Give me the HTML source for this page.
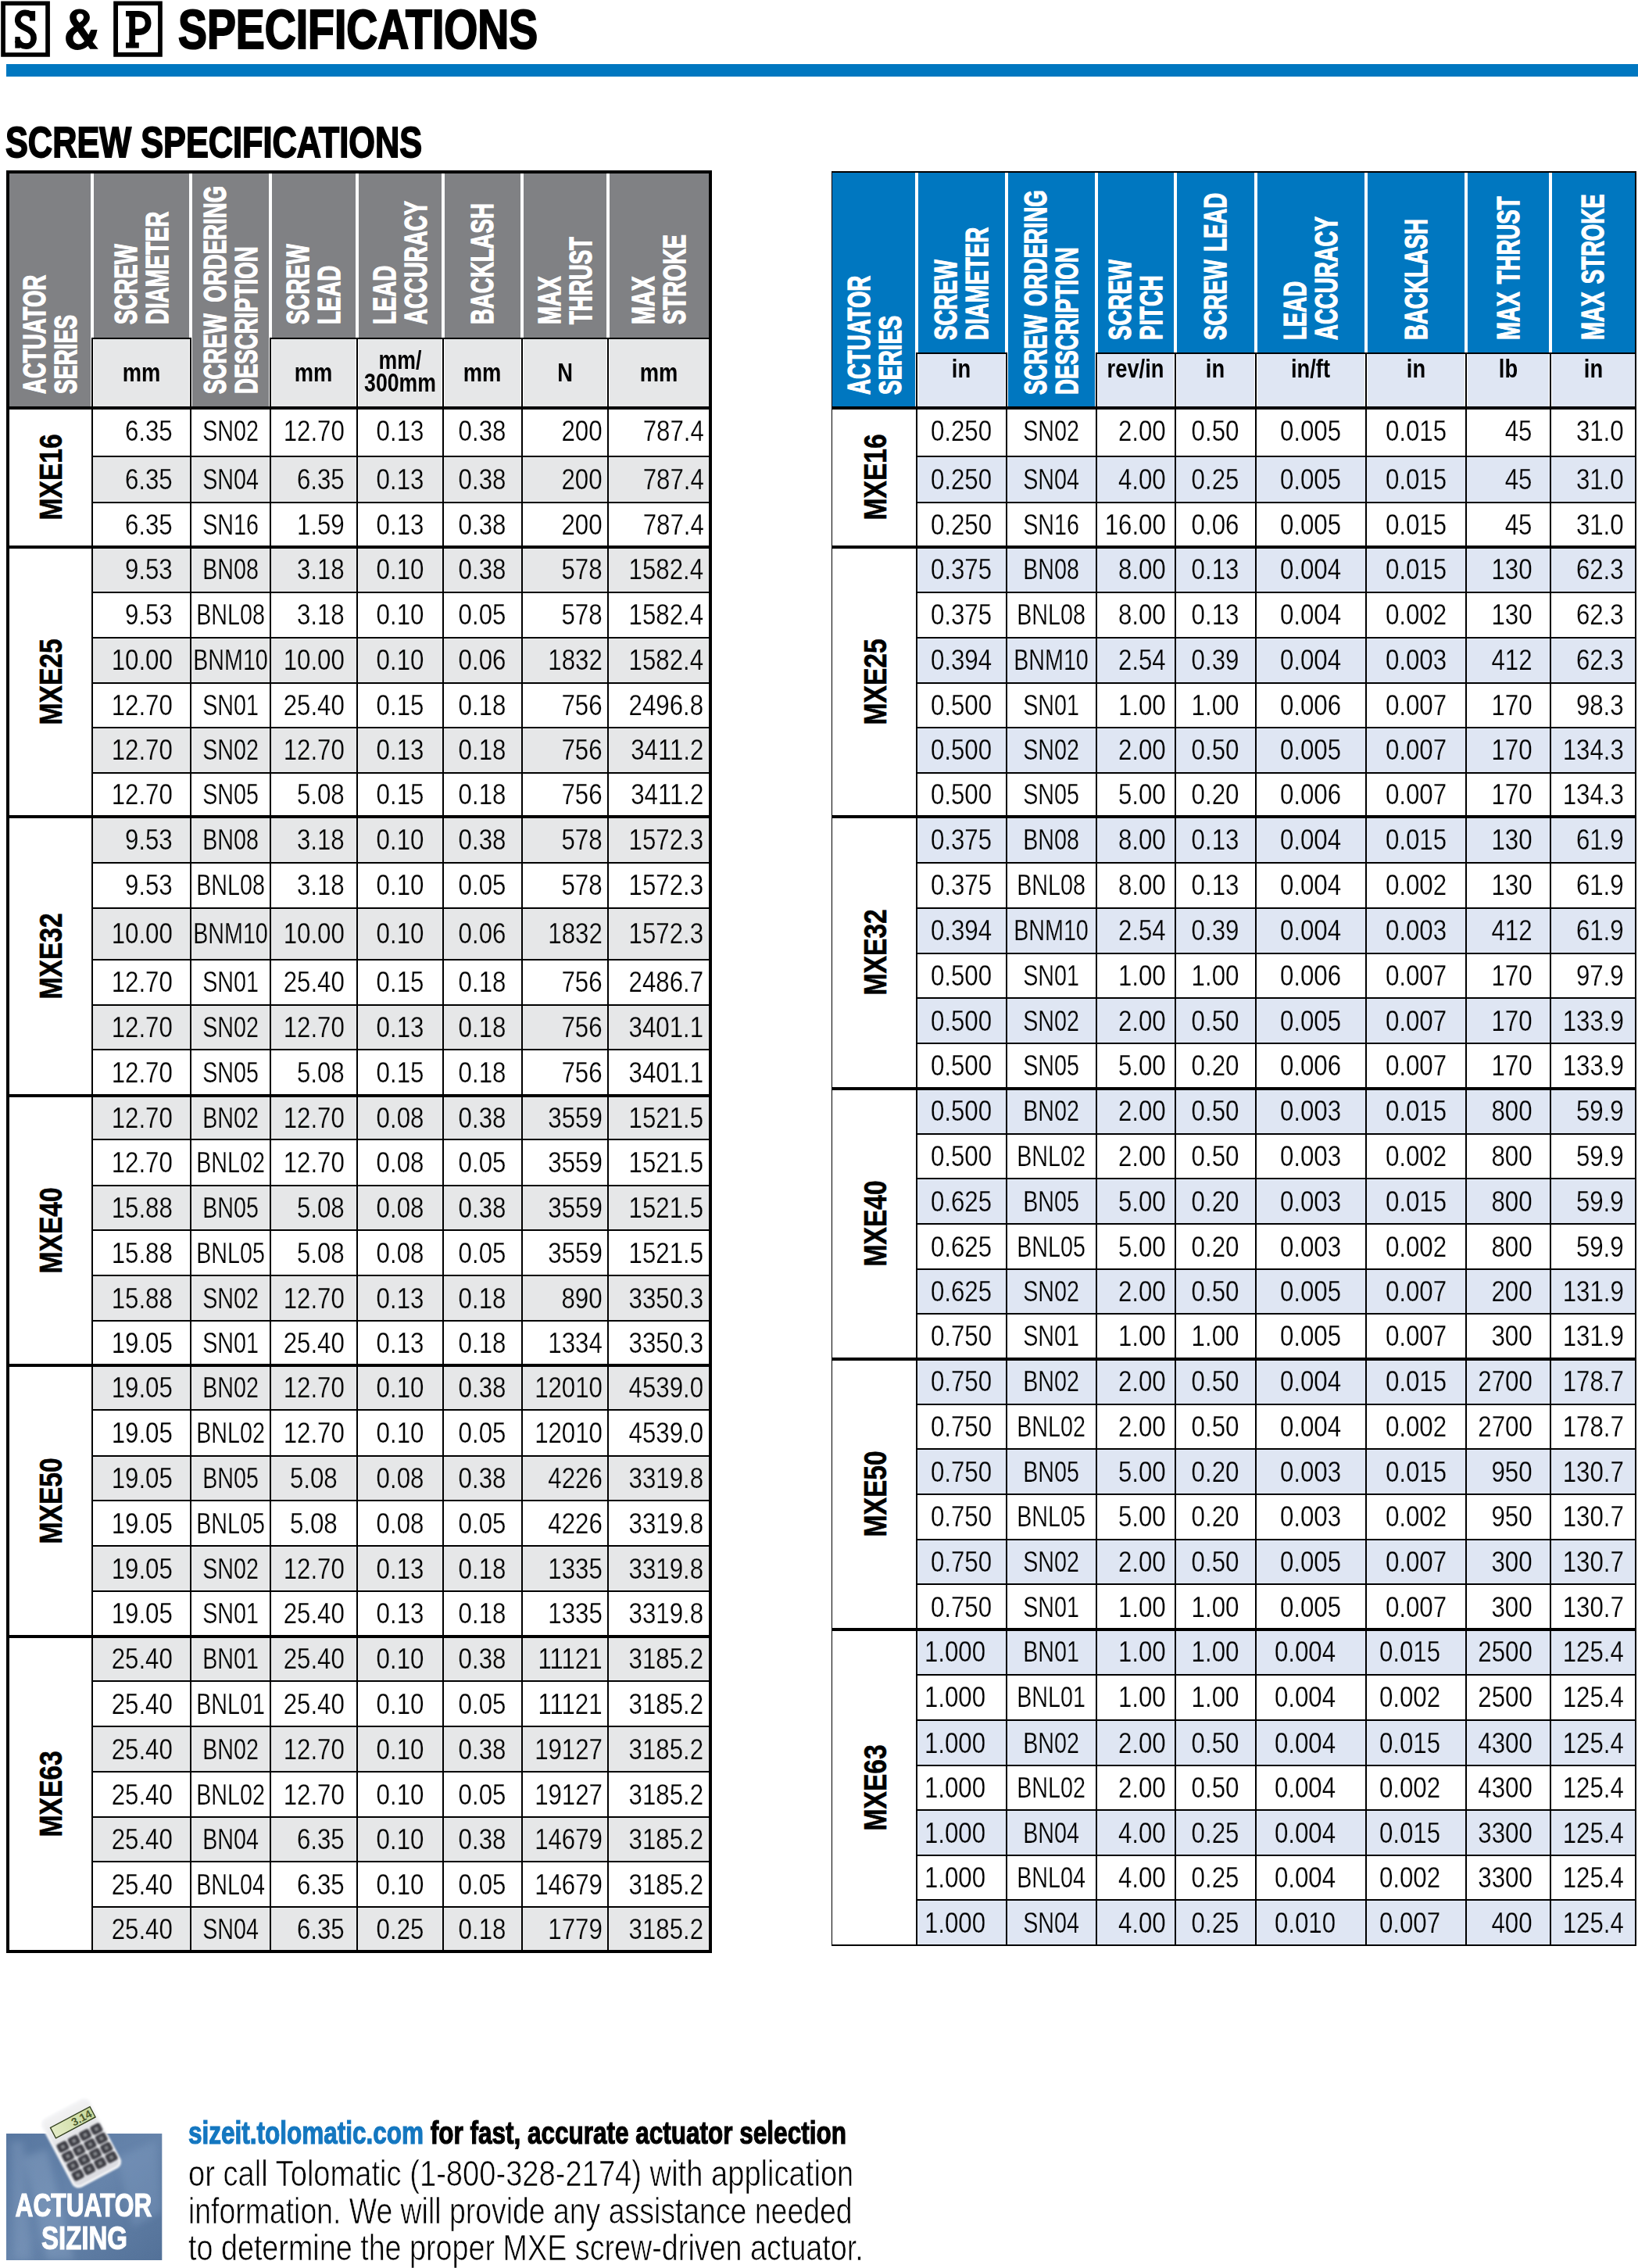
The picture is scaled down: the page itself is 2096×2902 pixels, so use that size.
<!DOCTYPE html>
<html><head><meta charset="utf-8"><title>S &amp; P Specifications</title>
<style>
html,body{margin:0;padding:0;background:#fff;}
body{position:relative;width:2096px;height:2902px;overflow:hidden;font-family:"Liberation Sans", sans-serif;color:#000;}
.r{position:absolute;}
.t{position:absolute;white-space:nowrap;}
.v{position:absolute;white-space:nowrap;transform-origin:0 0;word-spacing:4px;}
.c{position:absolute;}
.c div{white-space:nowrap;}
</style></head><body>
<svg style="position:absolute;left:0;top:0" width="66" height="76" viewBox="0 0 66 76"><path fill="#000" fill-rule="evenodd" d="M1.2,1.4 H63.9 V72.7 H1.2 Z M6.9,6.9 V67.2 H58.2 V6.9 Z"/><path fill="none" stroke="#000" stroke-width="7.6" d="M41.8,22 C40,18.2 36.5,16.4 32,16.4 C26.5,16.4 22.7,20.5 22.7,25.8 C22.7,31.2 27,33.6 33,36.2 C39,38.8 43.1,42 43.1,48.4 C43.1,54.8 39,59.1 33.6,59.1 C28,59.1 24.2,56.2 22.3,51.5"/><rect x="38" y="14.1" width="7.1" height="12.5" fill="#000"/><rect x="19.3" y="47.1" width="6.5" height="14.5" fill="#000"/></svg>
<svg style="position:absolute;left:143px;top:0" width="67" height="76" viewBox="0 0 67 76"><path fill="#000" fill-rule="evenodd" d="M2.2,1.4 H64.8 V72.8 H2.2 Z M8,7 V67.1 H59.1 V7 Z"/><path fill="#000" fill-rule="evenodd" d="M18,13.9 L34,13.9 C44,13.9 50.5,20 50.5,29.4 C50.5,38.5 44,45 34,45 L30.1,45 L30.1,54.4 L34.8,54.4 L34.8,61.6 L18,61.6 L18,54.4 L22.3,54.4 L22.3,20.9 L18,20.9 Z M30.1,21.7 L35,21.7 C40,21.7 42.7,24.5 42.7,29.3 C42.7,34 40,36.8 35,36.8 L30.1,36.8 Z"/></svg>
<svg style="position:absolute;left:78px;top:6px" width="54" height="64" viewBox="0 0 54 64"><path fill="#000" fill-rule="evenodd" d="M23.7,5.4 C31,5.4 36.9,10 36.9,16.2 C36.9,21.5 33,25 28.7,28.8 L35.3,38.6 L38.4,32.1 L46.5,32.1 C45,40 43,44 40.5,47.5 L47.8,56.7 L37.3,56.7 L34.5,52.8 C31,56 26.5,57.9 21.4,57.9 C12,57.9 6.1,51 6.1,42.9 C6.1,36 10,32 16.5,28 C13,24 11.2,20.5 11.2,16.2 C11.2,10 16.5,5.4 23.7,5.4 Z M24.4,11.5 C27.3,11.5 29,13.5 29,16 C29,19 26.5,21 23.6,23.1 C21.5,20.5 19.8,18.5 19.8,15.8 C19.8,13.3 21.8,11.5 24.4,11.5 Z M21.4,34.3 L30,46.5 C28,49 25.5,50.4 22.5,50.4 C18.3,50.4 15.5,47 15.5,43 C15.5,39 18,36.5 21.4,34.3 Z"/></svg>
<div class="t" style="left:228.0px;top:2.6px;font-size:70.5px;line-height:70.5px;font-weight:bold;color:#000;transform:scaleX(0.785);transform-origin:0 0;;-webkit-text-stroke:2.20px #000">SPECIFICATIONS</div>
<div class="r" style="left:8.0px;top:82.0px;width:2088.0px;height:15.8px;background:#0077c0"></div>
<div class="t" style="left:7.0px;top:155.3px;font-size:55.5px;line-height:55.5px;font-weight:bold;color:#000;transform:scaleX(0.780);transform-origin:0 0;;-webkit-text-stroke:1.80px #000">SCREW SPECIFICATIONS</div>
<div class="r" style="left:10.0px;top:220.0px;width:898.5px;height:301.5px;background:#808184"></div>
<div class="r" style="left:117.8px;top:433.0px;width:126.0px;height:88.5px;background:#e6e7e8"></div>
<div class="r" style="left:345.5px;top:433.0px;width:111.5px;height:88.5px;background:#e6e7e8"></div>
<div class="r" style="left:457.0px;top:433.0px;width:110.0px;height:88.5px;background:#e6e7e8"></div>
<div class="r" style="left:567.0px;top:433.0px;width:100.5px;height:88.5px;background:#e6e7e8"></div>
<div class="r" style="left:667.5px;top:433.0px;width:110.5px;height:88.5px;background:#e6e7e8"></div>
<div class="r" style="left:778.0px;top:433.0px;width:130.5px;height:88.5px;background:#e6e7e8"></div>
<div class="r" style="left:117.8px;top:584.0px;width:790.7px;height:59.0px;background:#e6e7e8"></div>
<div class="r" style="left:117.8px;top:700.0px;width:790.7px;height:57.5px;background:#e6e7e8"></div>
<div class="r" style="left:117.8px;top:816.0px;width:790.7px;height:57.5px;background:#e6e7e8"></div>
<div class="r" style="left:117.8px;top:931.0px;width:790.7px;height:57.6px;background:#e6e7e8"></div>
<div class="r" style="left:117.8px;top:1045.0px;width:790.7px;height:59.0px;background:#e6e7e8"></div>
<div class="r" style="left:117.8px;top:1161.6px;width:790.7px;height:66.0px;background:#e6e7e8"></div>
<div class="r" style="left:117.8px;top:1285.7px;width:790.7px;height:57.3px;background:#e6e7e8"></div>
<div class="r" style="left:117.8px;top:1401.5px;width:790.7px;height:56.9px;background:#e6e7e8"></div>
<div class="r" style="left:117.8px;top:1516.6px;width:790.7px;height:57.8px;background:#e6e7e8"></div>
<div class="r" style="left:117.8px;top:1632.3px;width:790.7px;height:57.7px;background:#e6e7e8"></div>
<div class="r" style="left:117.8px;top:1747.0px;width:790.7px;height:57.4px;background:#e6e7e8"></div>
<div class="r" style="left:117.8px;top:1862.6px;width:790.7px;height:57.4px;background:#e6e7e8"></div>
<div class="r" style="left:117.8px;top:1978.0px;width:790.7px;height:57.8px;background:#e6e7e8"></div>
<div class="r" style="left:117.8px;top:2093.5px;width:790.7px;height:57.9px;background:#e6e7e8"></div>
<div class="r" style="left:117.8px;top:2209.0px;width:790.7px;height:58.0px;background:#e6e7e8"></div>
<div class="r" style="left:117.8px;top:2324.7px;width:790.7px;height:57.3px;background:#e6e7e8"></div>
<div class="r" style="left:117.8px;top:2439.8px;width:790.7px;height:57.2px;background:#e6e7e8"></div>
<div class="r" style="left:115.8px;top:220.0px;width:4.0px;height:301.5px;background:#fff"></div>
<div class="r" style="left:241.8px;top:220.0px;width:4.0px;height:301.5px;background:#fff"></div>
<div class="r" style="left:343.5px;top:220.0px;width:4.0px;height:301.5px;background:#fff"></div>
<div class="r" style="left:455.0px;top:220.0px;width:4.0px;height:301.5px;background:#fff"></div>
<div class="r" style="left:565.0px;top:220.0px;width:4.0px;height:301.5px;background:#fff"></div>
<div class="r" style="left:665.5px;top:220.0px;width:4.0px;height:301.5px;background:#fff"></div>
<div class="r" style="left:776.0px;top:220.0px;width:4.0px;height:301.5px;background:#fff"></div>
<div class="r" style="left:116.8px;top:432.0px;width:128.0px;height:2.0px;background:#000"></div>
<div class="r" style="left:116.8px;top:432.0px;width:2.0px;height:89.5px;background:#000"></div>
<div class="r" style="left:242.8px;top:432.0px;width:2.0px;height:89.5px;background:#000"></div>
<div class="r" style="left:344.5px;top:432.0px;width:113.5px;height:2.0px;background:#000"></div>
<div class="r" style="left:344.5px;top:432.0px;width:2.0px;height:89.5px;background:#000"></div>
<div class="r" style="left:456.0px;top:432.0px;width:2.0px;height:89.5px;background:#000"></div>
<div class="r" style="left:456.0px;top:432.0px;width:112.0px;height:2.0px;background:#000"></div>
<div class="r" style="left:456.0px;top:432.0px;width:2.0px;height:89.5px;background:#000"></div>
<div class="r" style="left:566.0px;top:432.0px;width:2.0px;height:89.5px;background:#000"></div>
<div class="r" style="left:566.0px;top:432.0px;width:102.5px;height:2.0px;background:#000"></div>
<div class="r" style="left:566.0px;top:432.0px;width:2.0px;height:89.5px;background:#000"></div>
<div class="r" style="left:666.5px;top:432.0px;width:2.0px;height:89.5px;background:#000"></div>
<div class="r" style="left:666.5px;top:432.0px;width:112.5px;height:2.0px;background:#000"></div>
<div class="r" style="left:666.5px;top:432.0px;width:2.0px;height:89.5px;background:#000"></div>
<div class="r" style="left:777.0px;top:432.0px;width:2.0px;height:89.5px;background:#000"></div>
<div class="r" style="left:777.0px;top:432.0px;width:132.5px;height:2.0px;background:#000"></div>
<div class="r" style="left:777.0px;top:432.0px;width:2.0px;height:89.5px;background:#000"></div>
<div class="r" style="left:907.5px;top:432.0px;width:2.0px;height:89.5px;background:#000"></div>
<div class="r" style="left:10.0px;top:519.5px;width:898.5px;height:4.0px;background:#000"></div>
<div class="r" style="left:117.8px;top:583.0px;width:790.7px;height:2.0px;background:#000"></div>
<div class="r" style="left:117.8px;top:642.0px;width:790.7px;height:2.0px;background:#000"></div>
<div class="r" style="left:10.0px;top:698.0px;width:898.5px;height:4.0px;background:#000"></div>
<div class="r" style="left:117.8px;top:756.5px;width:790.7px;height:2.0px;background:#000"></div>
<div class="r" style="left:117.8px;top:815.0px;width:790.7px;height:2.0px;background:#000"></div>
<div class="r" style="left:117.8px;top:872.5px;width:790.7px;height:2.0px;background:#000"></div>
<div class="r" style="left:117.8px;top:930.0px;width:790.7px;height:2.0px;background:#000"></div>
<div class="r" style="left:117.8px;top:987.6px;width:790.7px;height:2.0px;background:#000"></div>
<div class="r" style="left:10.0px;top:1043.0px;width:898.5px;height:4.0px;background:#000"></div>
<div class="r" style="left:117.8px;top:1103.0px;width:790.7px;height:2.0px;background:#000"></div>
<div class="r" style="left:117.8px;top:1160.6px;width:790.7px;height:2.0px;background:#000"></div>
<div class="r" style="left:117.8px;top:1226.6px;width:790.7px;height:2.0px;background:#000"></div>
<div class="r" style="left:117.8px;top:1284.7px;width:790.7px;height:2.0px;background:#000"></div>
<div class="r" style="left:117.8px;top:1342.0px;width:790.7px;height:2.0px;background:#000"></div>
<div class="r" style="left:10.0px;top:1399.5px;width:898.5px;height:4.0px;background:#000"></div>
<div class="r" style="left:117.8px;top:1457.4px;width:790.7px;height:2.0px;background:#000"></div>
<div class="r" style="left:117.8px;top:1515.6px;width:790.7px;height:2.0px;background:#000"></div>
<div class="r" style="left:117.8px;top:1573.4px;width:790.7px;height:2.0px;background:#000"></div>
<div class="r" style="left:117.8px;top:1631.3px;width:790.7px;height:2.0px;background:#000"></div>
<div class="r" style="left:117.8px;top:1689.0px;width:790.7px;height:2.0px;background:#000"></div>
<div class="r" style="left:10.0px;top:1745.0px;width:898.5px;height:4.0px;background:#000"></div>
<div class="r" style="left:117.8px;top:1803.4px;width:790.7px;height:2.0px;background:#000"></div>
<div class="r" style="left:117.8px;top:1861.6px;width:790.7px;height:2.0px;background:#000"></div>
<div class="r" style="left:117.8px;top:1919.0px;width:790.7px;height:2.0px;background:#000"></div>
<div class="r" style="left:117.8px;top:1977.0px;width:790.7px;height:2.0px;background:#000"></div>
<div class="r" style="left:117.8px;top:2034.8px;width:790.7px;height:2.0px;background:#000"></div>
<div class="r" style="left:10.0px;top:2091.5px;width:898.5px;height:4.0px;background:#000"></div>
<div class="r" style="left:117.8px;top:2150.4px;width:790.7px;height:2.0px;background:#000"></div>
<div class="r" style="left:117.8px;top:2208.0px;width:790.7px;height:2.0px;background:#000"></div>
<div class="r" style="left:117.8px;top:2266.0px;width:790.7px;height:2.0px;background:#000"></div>
<div class="r" style="left:117.8px;top:2323.7px;width:790.7px;height:2.0px;background:#000"></div>
<div class="r" style="left:117.8px;top:2381.0px;width:790.7px;height:2.0px;background:#000"></div>
<div class="r" style="left:117.8px;top:2438.8px;width:790.7px;height:2.0px;background:#000"></div>
<div class="r" style="left:116.8px;top:521.5px;width:2.0px;height:1975.5px;background:#000"></div>
<div class="r" style="left:242.8px;top:521.5px;width:2.0px;height:1975.5px;background:#000"></div>
<div class="r" style="left:344.5px;top:521.5px;width:2.0px;height:1975.5px;background:#000"></div>
<div class="r" style="left:456.0px;top:521.5px;width:2.0px;height:1975.5px;background:#000"></div>
<div class="r" style="left:566.0px;top:521.5px;width:2.0px;height:1975.5px;background:#000"></div>
<div class="r" style="left:666.5px;top:521.5px;width:2.0px;height:1975.5px;background:#000"></div>
<div class="r" style="left:777.0px;top:521.5px;width:2.0px;height:1975.5px;background:#000"></div>
<div class="r" style="left:8.0px;top:218.0px;width:902.5px;height:4.0px;background:#000"></div>
<div class="r" style="left:8.0px;top:2495.0px;width:902.5px;height:4.0px;background:#000"></div>
<div class="r" style="left:8.0px;top:218.0px;width:4.0px;height:2281.0px;background:#000"></div>
<div class="r" style="left:906.5px;top:218.0px;width:4.0px;height:2281.0px;background:#000"></div>
<div class="t" style="right:1875.6px;top:533.6px;font-size:36.3px;line-height:36.3px;font-weight:normal;color:#000;transform:scaleX(0.860);transform-origin:100% 0;;-webkit-text-stroke:0.25px #fff">6.35</div>
<div class="t" style="left:-205.4px;width:1000px;text-align:center;top:533.6px;font-size:36.3px;line-height:36.3px;font-weight:normal;color:#000;transform:scaleX(0.790);transform-origin:50% 0;;-webkit-text-stroke:0.25px #fff">SN02</div>
<div class="t" style="right:1655.5px;top:533.6px;font-size:36.3px;line-height:36.3px;font-weight:normal;color:#000;transform:scaleX(0.860);transform-origin:100% 0;;-webkit-text-stroke:0.25px #fff">12.70</div>
<div class="t" style="left:12.0px;width:1000px;text-align:center;top:533.6px;font-size:36.3px;line-height:36.3px;font-weight:normal;color:#000;transform:scaleX(0.860);transform-origin:50% 0;;-webkit-text-stroke:0.25px #fff">0.13</div>
<div class="t" style="left:117.2px;width:1000px;text-align:center;top:533.6px;font-size:36.3px;line-height:36.3px;font-weight:normal;color:#000;transform:scaleX(0.860);transform-origin:50% 0;;-webkit-text-stroke:0.25px #fff">0.38</div>
<div class="t" style="right:1325.3px;top:533.6px;font-size:36.3px;line-height:36.3px;font-weight:normal;color:#000;transform:scaleX(0.860);transform-origin:100% 0;;-webkit-text-stroke:0.25px #fff">200</div>
<div class="t" style="right:1195.5px;top:533.6px;font-size:36.3px;line-height:36.3px;font-weight:normal;color:#000;transform:scaleX(0.860);transform-origin:100% 0;;-webkit-text-stroke:0.25px #fff">787.4</div>
<div class="t" style="right:1875.6px;top:596.1px;font-size:36.3px;line-height:36.3px;font-weight:normal;color:#000;transform:scaleX(0.860);transform-origin:100% 0;;-webkit-text-stroke:0.25px #e6e7e8">6.35</div>
<div class="t" style="left:-205.4px;width:1000px;text-align:center;top:596.1px;font-size:36.3px;line-height:36.3px;font-weight:normal;color:#000;transform:scaleX(0.790);transform-origin:50% 0;;-webkit-text-stroke:0.25px #e6e7e8">SN04</div>
<div class="t" style="right:1655.5px;top:596.1px;font-size:36.3px;line-height:36.3px;font-weight:normal;color:#000;transform:scaleX(0.860);transform-origin:100% 0;;-webkit-text-stroke:0.25px #e6e7e8">6.35</div>
<div class="t" style="left:12.0px;width:1000px;text-align:center;top:596.1px;font-size:36.3px;line-height:36.3px;font-weight:normal;color:#000;transform:scaleX(0.860);transform-origin:50% 0;;-webkit-text-stroke:0.25px #e6e7e8">0.13</div>
<div class="t" style="left:117.2px;width:1000px;text-align:center;top:596.1px;font-size:36.3px;line-height:36.3px;font-weight:normal;color:#000;transform:scaleX(0.860);transform-origin:50% 0;;-webkit-text-stroke:0.25px #e6e7e8">0.38</div>
<div class="t" style="right:1325.3px;top:596.1px;font-size:36.3px;line-height:36.3px;font-weight:normal;color:#000;transform:scaleX(0.860);transform-origin:100% 0;;-webkit-text-stroke:0.25px #e6e7e8">200</div>
<div class="t" style="right:1195.5px;top:596.1px;font-size:36.3px;line-height:36.3px;font-weight:normal;color:#000;transform:scaleX(0.860);transform-origin:100% 0;;-webkit-text-stroke:0.25px #e6e7e8">787.4</div>
<div class="t" style="right:1875.6px;top:654.1px;font-size:36.3px;line-height:36.3px;font-weight:normal;color:#000;transform:scaleX(0.860);transform-origin:100% 0;;-webkit-text-stroke:0.25px #fff">6.35</div>
<div class="t" style="left:-205.4px;width:1000px;text-align:center;top:654.1px;font-size:36.3px;line-height:36.3px;font-weight:normal;color:#000;transform:scaleX(0.790);transform-origin:50% 0;;-webkit-text-stroke:0.25px #fff">SN16</div>
<div class="t" style="right:1655.5px;top:654.1px;font-size:36.3px;line-height:36.3px;font-weight:normal;color:#000;transform:scaleX(0.860);transform-origin:100% 0;;-webkit-text-stroke:0.25px #fff">1.59</div>
<div class="t" style="left:12.0px;width:1000px;text-align:center;top:654.1px;font-size:36.3px;line-height:36.3px;font-weight:normal;color:#000;transform:scaleX(0.860);transform-origin:50% 0;;-webkit-text-stroke:0.25px #fff">0.13</div>
<div class="t" style="left:117.2px;width:1000px;text-align:center;top:654.1px;font-size:36.3px;line-height:36.3px;font-weight:normal;color:#000;transform:scaleX(0.860);transform-origin:50% 0;;-webkit-text-stroke:0.25px #fff">0.38</div>
<div class="t" style="right:1325.3px;top:654.1px;font-size:36.3px;line-height:36.3px;font-weight:normal;color:#000;transform:scaleX(0.860);transform-origin:100% 0;;-webkit-text-stroke:0.25px #fff">200</div>
<div class="t" style="right:1195.5px;top:654.1px;font-size:36.3px;line-height:36.3px;font-weight:normal;color:#000;transform:scaleX(0.860);transform-origin:100% 0;;-webkit-text-stroke:0.25px #fff">787.4</div>
<div class="t" style="right:1875.6px;top:711.4px;font-size:36.3px;line-height:36.3px;font-weight:normal;color:#000;transform:scaleX(0.860);transform-origin:100% 0;;-webkit-text-stroke:0.25px #e6e7e8">9.53</div>
<div class="t" style="left:-205.4px;width:1000px;text-align:center;top:711.4px;font-size:36.3px;line-height:36.3px;font-weight:normal;color:#000;transform:scaleX(0.790);transform-origin:50% 0;;-webkit-text-stroke:0.25px #e6e7e8">BN08</div>
<div class="t" style="right:1655.5px;top:711.4px;font-size:36.3px;line-height:36.3px;font-weight:normal;color:#000;transform:scaleX(0.860);transform-origin:100% 0;;-webkit-text-stroke:0.25px #e6e7e8">3.18</div>
<div class="t" style="left:12.0px;width:1000px;text-align:center;top:711.4px;font-size:36.3px;line-height:36.3px;font-weight:normal;color:#000;transform:scaleX(0.860);transform-origin:50% 0;;-webkit-text-stroke:0.25px #e6e7e8">0.10</div>
<div class="t" style="left:117.2px;width:1000px;text-align:center;top:711.4px;font-size:36.3px;line-height:36.3px;font-weight:normal;color:#000;transform:scaleX(0.860);transform-origin:50% 0;;-webkit-text-stroke:0.25px #e6e7e8">0.38</div>
<div class="t" style="right:1325.3px;top:711.4px;font-size:36.3px;line-height:36.3px;font-weight:normal;color:#000;transform:scaleX(0.860);transform-origin:100% 0;;-webkit-text-stroke:0.25px #e6e7e8">578</div>
<div class="t" style="right:1195.5px;top:711.4px;font-size:36.3px;line-height:36.3px;font-weight:normal;color:#000;transform:scaleX(0.860);transform-origin:100% 0;;-webkit-text-stroke:0.25px #e6e7e8">1582.4</div>
<div class="t" style="right:1875.6px;top:769.4px;font-size:36.3px;line-height:36.3px;font-weight:normal;color:#000;transform:scaleX(0.860);transform-origin:100% 0;;-webkit-text-stroke:0.25px #fff">9.53</div>
<div class="t" style="left:-205.4px;width:1000px;text-align:center;top:769.4px;font-size:36.3px;line-height:36.3px;font-weight:normal;color:#000;transform:scaleX(0.790);transform-origin:50% 0;;-webkit-text-stroke:0.25px #fff">BNL08</div>
<div class="t" style="right:1655.5px;top:769.4px;font-size:36.3px;line-height:36.3px;font-weight:normal;color:#000;transform:scaleX(0.860);transform-origin:100% 0;;-webkit-text-stroke:0.25px #fff">3.18</div>
<div class="t" style="left:12.0px;width:1000px;text-align:center;top:769.4px;font-size:36.3px;line-height:36.3px;font-weight:normal;color:#000;transform:scaleX(0.860);transform-origin:50% 0;;-webkit-text-stroke:0.25px #fff">0.10</div>
<div class="t" style="left:117.2px;width:1000px;text-align:center;top:769.4px;font-size:36.3px;line-height:36.3px;font-weight:normal;color:#000;transform:scaleX(0.860);transform-origin:50% 0;;-webkit-text-stroke:0.25px #fff">0.05</div>
<div class="t" style="right:1325.3px;top:769.4px;font-size:36.3px;line-height:36.3px;font-weight:normal;color:#000;transform:scaleX(0.860);transform-origin:100% 0;;-webkit-text-stroke:0.25px #fff">578</div>
<div class="t" style="right:1195.5px;top:769.4px;font-size:36.3px;line-height:36.3px;font-weight:normal;color:#000;transform:scaleX(0.860);transform-origin:100% 0;;-webkit-text-stroke:0.25px #fff">1582.4</div>
<div class="t" style="right:1875.6px;top:827.4px;font-size:36.3px;line-height:36.3px;font-weight:normal;color:#000;transform:scaleX(0.860);transform-origin:100% 0;;-webkit-text-stroke:0.25px #e6e7e8">10.00</div>
<div class="t" style="left:-205.4px;width:1000px;text-align:center;top:827.4px;font-size:36.3px;line-height:36.3px;font-weight:normal;color:#000;transform:scaleX(0.790);transform-origin:50% 0;;-webkit-text-stroke:0.25px #e6e7e8">BNM10</div>
<div class="t" style="right:1655.5px;top:827.4px;font-size:36.3px;line-height:36.3px;font-weight:normal;color:#000;transform:scaleX(0.860);transform-origin:100% 0;;-webkit-text-stroke:0.25px #e6e7e8">10.00</div>
<div class="t" style="left:12.0px;width:1000px;text-align:center;top:827.4px;font-size:36.3px;line-height:36.3px;font-weight:normal;color:#000;transform:scaleX(0.860);transform-origin:50% 0;;-webkit-text-stroke:0.25px #e6e7e8">0.10</div>
<div class="t" style="left:117.2px;width:1000px;text-align:center;top:827.4px;font-size:36.3px;line-height:36.3px;font-weight:normal;color:#000;transform:scaleX(0.860);transform-origin:50% 0;;-webkit-text-stroke:0.25px #e6e7e8">0.06</div>
<div class="t" style="right:1325.3px;top:827.4px;font-size:36.3px;line-height:36.3px;font-weight:normal;color:#000;transform:scaleX(0.860);transform-origin:100% 0;;-webkit-text-stroke:0.25px #e6e7e8">1832</div>
<div class="t" style="right:1195.5px;top:827.4px;font-size:36.3px;line-height:36.3px;font-weight:normal;color:#000;transform:scaleX(0.860);transform-origin:100% 0;;-webkit-text-stroke:0.25px #e6e7e8">1582.4</div>
<div class="t" style="right:1875.6px;top:884.9px;font-size:36.3px;line-height:36.3px;font-weight:normal;color:#000;transform:scaleX(0.860);transform-origin:100% 0;;-webkit-text-stroke:0.25px #fff">12.70</div>
<div class="t" style="left:-205.4px;width:1000px;text-align:center;top:884.9px;font-size:36.3px;line-height:36.3px;font-weight:normal;color:#000;transform:scaleX(0.790);transform-origin:50% 0;;-webkit-text-stroke:0.25px #fff">SN01</div>
<div class="t" style="right:1655.5px;top:884.9px;font-size:36.3px;line-height:36.3px;font-weight:normal;color:#000;transform:scaleX(0.860);transform-origin:100% 0;;-webkit-text-stroke:0.25px #fff">25.40</div>
<div class="t" style="left:12.0px;width:1000px;text-align:center;top:884.9px;font-size:36.3px;line-height:36.3px;font-weight:normal;color:#000;transform:scaleX(0.860);transform-origin:50% 0;;-webkit-text-stroke:0.25px #fff">0.15</div>
<div class="t" style="left:117.2px;width:1000px;text-align:center;top:884.9px;font-size:36.3px;line-height:36.3px;font-weight:normal;color:#000;transform:scaleX(0.860);transform-origin:50% 0;;-webkit-text-stroke:0.25px #fff">0.18</div>
<div class="t" style="right:1325.3px;top:884.9px;font-size:36.3px;line-height:36.3px;font-weight:normal;color:#000;transform:scaleX(0.860);transform-origin:100% 0;;-webkit-text-stroke:0.25px #fff">756</div>
<div class="t" style="right:1195.5px;top:884.9px;font-size:36.3px;line-height:36.3px;font-weight:normal;color:#000;transform:scaleX(0.860);transform-origin:100% 0;;-webkit-text-stroke:0.25px #fff">2496.8</div>
<div class="t" style="right:1875.6px;top:942.4px;font-size:36.3px;line-height:36.3px;font-weight:normal;color:#000;transform:scaleX(0.860);transform-origin:100% 0;;-webkit-text-stroke:0.25px #e6e7e8">12.70</div>
<div class="t" style="left:-205.4px;width:1000px;text-align:center;top:942.4px;font-size:36.3px;line-height:36.3px;font-weight:normal;color:#000;transform:scaleX(0.790);transform-origin:50% 0;;-webkit-text-stroke:0.25px #e6e7e8">SN02</div>
<div class="t" style="right:1655.5px;top:942.4px;font-size:36.3px;line-height:36.3px;font-weight:normal;color:#000;transform:scaleX(0.860);transform-origin:100% 0;;-webkit-text-stroke:0.25px #e6e7e8">12.70</div>
<div class="t" style="left:12.0px;width:1000px;text-align:center;top:942.4px;font-size:36.3px;line-height:36.3px;font-weight:normal;color:#000;transform:scaleX(0.860);transform-origin:50% 0;;-webkit-text-stroke:0.25px #e6e7e8">0.13</div>
<div class="t" style="left:117.2px;width:1000px;text-align:center;top:942.4px;font-size:36.3px;line-height:36.3px;font-weight:normal;color:#000;transform:scaleX(0.860);transform-origin:50% 0;;-webkit-text-stroke:0.25px #e6e7e8">0.18</div>
<div class="t" style="right:1325.3px;top:942.4px;font-size:36.3px;line-height:36.3px;font-weight:normal;color:#000;transform:scaleX(0.860);transform-origin:100% 0;;-webkit-text-stroke:0.25px #e6e7e8">756</div>
<div class="t" style="right:1195.5px;top:942.4px;font-size:36.3px;line-height:36.3px;font-weight:normal;color:#000;transform:scaleX(0.860);transform-origin:100% 0;;-webkit-text-stroke:0.25px #e6e7e8">3411.2</div>
<div class="t" style="right:1875.6px;top:999.4px;font-size:36.3px;line-height:36.3px;font-weight:normal;color:#000;transform:scaleX(0.860);transform-origin:100% 0;;-webkit-text-stroke:0.25px #fff">12.70</div>
<div class="t" style="left:-205.4px;width:1000px;text-align:center;top:999.4px;font-size:36.3px;line-height:36.3px;font-weight:normal;color:#000;transform:scaleX(0.790);transform-origin:50% 0;;-webkit-text-stroke:0.25px #fff">SN05</div>
<div class="t" style="right:1655.5px;top:999.4px;font-size:36.3px;line-height:36.3px;font-weight:normal;color:#000;transform:scaleX(0.860);transform-origin:100% 0;;-webkit-text-stroke:0.25px #fff">5.08</div>
<div class="t" style="left:12.0px;width:1000px;text-align:center;top:999.4px;font-size:36.3px;line-height:36.3px;font-weight:normal;color:#000;transform:scaleX(0.860);transform-origin:50% 0;;-webkit-text-stroke:0.25px #fff">0.15</div>
<div class="t" style="left:117.2px;width:1000px;text-align:center;top:999.4px;font-size:36.3px;line-height:36.3px;font-weight:normal;color:#000;transform:scaleX(0.860);transform-origin:50% 0;;-webkit-text-stroke:0.25px #fff">0.18</div>
<div class="t" style="right:1325.3px;top:999.4px;font-size:36.3px;line-height:36.3px;font-weight:normal;color:#000;transform:scaleX(0.860);transform-origin:100% 0;;-webkit-text-stroke:0.25px #fff">756</div>
<div class="t" style="right:1195.5px;top:999.4px;font-size:36.3px;line-height:36.3px;font-weight:normal;color:#000;transform:scaleX(0.860);transform-origin:100% 0;;-webkit-text-stroke:0.25px #fff">3411.2</div>
<div class="t" style="right:1875.6px;top:1057.1px;font-size:36.3px;line-height:36.3px;font-weight:normal;color:#000;transform:scaleX(0.860);transform-origin:100% 0;;-webkit-text-stroke:0.25px #e6e7e8">9.53</div>
<div class="t" style="left:-205.4px;width:1000px;text-align:center;top:1057.1px;font-size:36.3px;line-height:36.3px;font-weight:normal;color:#000;transform:scaleX(0.790);transform-origin:50% 0;;-webkit-text-stroke:0.25px #e6e7e8">BN08</div>
<div class="t" style="right:1655.5px;top:1057.1px;font-size:36.3px;line-height:36.3px;font-weight:normal;color:#000;transform:scaleX(0.860);transform-origin:100% 0;;-webkit-text-stroke:0.25px #e6e7e8">3.18</div>
<div class="t" style="left:12.0px;width:1000px;text-align:center;top:1057.1px;font-size:36.3px;line-height:36.3px;font-weight:normal;color:#000;transform:scaleX(0.860);transform-origin:50% 0;;-webkit-text-stroke:0.25px #e6e7e8">0.10</div>
<div class="t" style="left:117.2px;width:1000px;text-align:center;top:1057.1px;font-size:36.3px;line-height:36.3px;font-weight:normal;color:#000;transform:scaleX(0.860);transform-origin:50% 0;;-webkit-text-stroke:0.25px #e6e7e8">0.38</div>
<div class="t" style="right:1325.3px;top:1057.1px;font-size:36.3px;line-height:36.3px;font-weight:normal;color:#000;transform:scaleX(0.860);transform-origin:100% 0;;-webkit-text-stroke:0.25px #e6e7e8">578</div>
<div class="t" style="right:1195.5px;top:1057.1px;font-size:36.3px;line-height:36.3px;font-weight:normal;color:#000;transform:scaleX(0.860);transform-origin:100% 0;;-webkit-text-stroke:0.25px #e6e7e8">1572.3</div>
<div class="t" style="right:1875.6px;top:1115.4px;font-size:36.3px;line-height:36.3px;font-weight:normal;color:#000;transform:scaleX(0.860);transform-origin:100% 0;;-webkit-text-stroke:0.25px #fff">9.53</div>
<div class="t" style="left:-205.4px;width:1000px;text-align:center;top:1115.4px;font-size:36.3px;line-height:36.3px;font-weight:normal;color:#000;transform:scaleX(0.790);transform-origin:50% 0;;-webkit-text-stroke:0.25px #fff">BNL08</div>
<div class="t" style="right:1655.5px;top:1115.4px;font-size:36.3px;line-height:36.3px;font-weight:normal;color:#000;transform:scaleX(0.860);transform-origin:100% 0;;-webkit-text-stroke:0.25px #fff">3.18</div>
<div class="t" style="left:12.0px;width:1000px;text-align:center;top:1115.4px;font-size:36.3px;line-height:36.3px;font-weight:normal;color:#000;transform:scaleX(0.860);transform-origin:50% 0;;-webkit-text-stroke:0.25px #fff">0.10</div>
<div class="t" style="left:117.2px;width:1000px;text-align:center;top:1115.4px;font-size:36.3px;line-height:36.3px;font-weight:normal;color:#000;transform:scaleX(0.860);transform-origin:50% 0;;-webkit-text-stroke:0.25px #fff">0.05</div>
<div class="t" style="right:1325.3px;top:1115.4px;font-size:36.3px;line-height:36.3px;font-weight:normal;color:#000;transform:scaleX(0.860);transform-origin:100% 0;;-webkit-text-stroke:0.25px #fff">578</div>
<div class="t" style="right:1195.5px;top:1115.4px;font-size:36.3px;line-height:36.3px;font-weight:normal;color:#000;transform:scaleX(0.860);transform-origin:100% 0;;-webkit-text-stroke:0.25px #fff">1572.3</div>
<div class="t" style="right:1875.6px;top:1177.2px;font-size:36.3px;line-height:36.3px;font-weight:normal;color:#000;transform:scaleX(0.860);transform-origin:100% 0;;-webkit-text-stroke:0.25px #e6e7e8">10.00</div>
<div class="t" style="left:-205.4px;width:1000px;text-align:center;top:1177.2px;font-size:36.3px;line-height:36.3px;font-weight:normal;color:#000;transform:scaleX(0.790);transform-origin:50% 0;;-webkit-text-stroke:0.25px #e6e7e8">BNM10</div>
<div class="t" style="right:1655.5px;top:1177.2px;font-size:36.3px;line-height:36.3px;font-weight:normal;color:#000;transform:scaleX(0.860);transform-origin:100% 0;;-webkit-text-stroke:0.25px #e6e7e8">10.00</div>
<div class="t" style="left:12.0px;width:1000px;text-align:center;top:1177.2px;font-size:36.3px;line-height:36.3px;font-weight:normal;color:#000;transform:scaleX(0.860);transform-origin:50% 0;;-webkit-text-stroke:0.25px #e6e7e8">0.10</div>
<div class="t" style="left:117.2px;width:1000px;text-align:center;top:1177.2px;font-size:36.3px;line-height:36.3px;font-weight:normal;color:#000;transform:scaleX(0.860);transform-origin:50% 0;;-webkit-text-stroke:0.25px #e6e7e8">0.06</div>
<div class="t" style="right:1325.3px;top:1177.2px;font-size:36.3px;line-height:36.3px;font-weight:normal;color:#000;transform:scaleX(0.860);transform-origin:100% 0;;-webkit-text-stroke:0.25px #e6e7e8">1832</div>
<div class="t" style="right:1195.5px;top:1177.2px;font-size:36.3px;line-height:36.3px;font-weight:normal;color:#000;transform:scaleX(0.860);transform-origin:100% 0;;-webkit-text-stroke:0.25px #e6e7e8">1572.3</div>
<div class="t" style="right:1875.6px;top:1239.3px;font-size:36.3px;line-height:36.3px;font-weight:normal;color:#000;transform:scaleX(0.860);transform-origin:100% 0;;-webkit-text-stroke:0.25px #fff">12.70</div>
<div class="t" style="left:-205.4px;width:1000px;text-align:center;top:1239.3px;font-size:36.3px;line-height:36.3px;font-weight:normal;color:#000;transform:scaleX(0.790);transform-origin:50% 0;;-webkit-text-stroke:0.25px #fff">SN01</div>
<div class="t" style="right:1655.5px;top:1239.3px;font-size:36.3px;line-height:36.3px;font-weight:normal;color:#000;transform:scaleX(0.860);transform-origin:100% 0;;-webkit-text-stroke:0.25px #fff">25.40</div>
<div class="t" style="left:12.0px;width:1000px;text-align:center;top:1239.3px;font-size:36.3px;line-height:36.3px;font-weight:normal;color:#000;transform:scaleX(0.860);transform-origin:50% 0;;-webkit-text-stroke:0.25px #fff">0.15</div>
<div class="t" style="left:117.2px;width:1000px;text-align:center;top:1239.3px;font-size:36.3px;line-height:36.3px;font-weight:normal;color:#000;transform:scaleX(0.860);transform-origin:50% 0;;-webkit-text-stroke:0.25px #fff">0.18</div>
<div class="t" style="right:1325.3px;top:1239.3px;font-size:36.3px;line-height:36.3px;font-weight:normal;color:#000;transform:scaleX(0.860);transform-origin:100% 0;;-webkit-text-stroke:0.25px #fff">756</div>
<div class="t" style="right:1195.5px;top:1239.3px;font-size:36.3px;line-height:36.3px;font-weight:normal;color:#000;transform:scaleX(0.860);transform-origin:100% 0;;-webkit-text-stroke:0.25px #fff">2486.7</div>
<div class="t" style="right:1875.6px;top:1297.0px;font-size:36.3px;line-height:36.3px;font-weight:normal;color:#000;transform:scaleX(0.860);transform-origin:100% 0;;-webkit-text-stroke:0.25px #e6e7e8">12.70</div>
<div class="t" style="left:-205.4px;width:1000px;text-align:center;top:1297.0px;font-size:36.3px;line-height:36.3px;font-weight:normal;color:#000;transform:scaleX(0.790);transform-origin:50% 0;;-webkit-text-stroke:0.25px #e6e7e8">SN02</div>
<div class="t" style="right:1655.5px;top:1297.0px;font-size:36.3px;line-height:36.3px;font-weight:normal;color:#000;transform:scaleX(0.860);transform-origin:100% 0;;-webkit-text-stroke:0.25px #e6e7e8">12.70</div>
<div class="t" style="left:12.0px;width:1000px;text-align:center;top:1297.0px;font-size:36.3px;line-height:36.3px;font-weight:normal;color:#000;transform:scaleX(0.860);transform-origin:50% 0;;-webkit-text-stroke:0.25px #e6e7e8">0.13</div>
<div class="t" style="left:117.2px;width:1000px;text-align:center;top:1297.0px;font-size:36.3px;line-height:36.3px;font-weight:normal;color:#000;transform:scaleX(0.860);transform-origin:50% 0;;-webkit-text-stroke:0.25px #e6e7e8">0.18</div>
<div class="t" style="right:1325.3px;top:1297.0px;font-size:36.3px;line-height:36.3px;font-weight:normal;color:#000;transform:scaleX(0.860);transform-origin:100% 0;;-webkit-text-stroke:0.25px #e6e7e8">756</div>
<div class="t" style="right:1195.5px;top:1297.0px;font-size:36.3px;line-height:36.3px;font-weight:normal;color:#000;transform:scaleX(0.860);transform-origin:100% 0;;-webkit-text-stroke:0.25px #e6e7e8">3401.1</div>
<div class="t" style="right:1875.6px;top:1354.9px;font-size:36.3px;line-height:36.3px;font-weight:normal;color:#000;transform:scaleX(0.860);transform-origin:100% 0;;-webkit-text-stroke:0.25px #fff">12.70</div>
<div class="t" style="left:-205.4px;width:1000px;text-align:center;top:1354.9px;font-size:36.3px;line-height:36.3px;font-weight:normal;color:#000;transform:scaleX(0.790);transform-origin:50% 0;;-webkit-text-stroke:0.25px #fff">SN05</div>
<div class="t" style="right:1655.5px;top:1354.9px;font-size:36.3px;line-height:36.3px;font-weight:normal;color:#000;transform:scaleX(0.860);transform-origin:100% 0;;-webkit-text-stroke:0.25px #fff">5.08</div>
<div class="t" style="left:12.0px;width:1000px;text-align:center;top:1354.9px;font-size:36.3px;line-height:36.3px;font-weight:normal;color:#000;transform:scaleX(0.860);transform-origin:50% 0;;-webkit-text-stroke:0.25px #fff">0.15</div>
<div class="t" style="left:117.2px;width:1000px;text-align:center;top:1354.9px;font-size:36.3px;line-height:36.3px;font-weight:normal;color:#000;transform:scaleX(0.860);transform-origin:50% 0;;-webkit-text-stroke:0.25px #fff">0.18</div>
<div class="t" style="right:1325.3px;top:1354.9px;font-size:36.3px;line-height:36.3px;font-weight:normal;color:#000;transform:scaleX(0.860);transform-origin:100% 0;;-webkit-text-stroke:0.25px #fff">756</div>
<div class="t" style="right:1195.5px;top:1354.9px;font-size:36.3px;line-height:36.3px;font-weight:normal;color:#000;transform:scaleX(0.860);transform-origin:100% 0;;-webkit-text-stroke:0.25px #fff">3401.1</div>
<div class="t" style="right:1875.6px;top:1412.6px;font-size:36.3px;line-height:36.3px;font-weight:normal;color:#000;transform:scaleX(0.860);transform-origin:100% 0;;-webkit-text-stroke:0.25px #e6e7e8">12.70</div>
<div class="t" style="left:-205.4px;width:1000px;text-align:center;top:1412.6px;font-size:36.3px;line-height:36.3px;font-weight:normal;color:#000;transform:scaleX(0.790);transform-origin:50% 0;;-webkit-text-stroke:0.25px #e6e7e8">BN02</div>
<div class="t" style="right:1655.5px;top:1412.6px;font-size:36.3px;line-height:36.3px;font-weight:normal;color:#000;transform:scaleX(0.860);transform-origin:100% 0;;-webkit-text-stroke:0.25px #e6e7e8">12.70</div>
<div class="t" style="left:12.0px;width:1000px;text-align:center;top:1412.6px;font-size:36.3px;line-height:36.3px;font-weight:normal;color:#000;transform:scaleX(0.860);transform-origin:50% 0;;-webkit-text-stroke:0.25px #e6e7e8">0.08</div>
<div class="t" style="left:117.2px;width:1000px;text-align:center;top:1412.6px;font-size:36.3px;line-height:36.3px;font-weight:normal;color:#000;transform:scaleX(0.860);transform-origin:50% 0;;-webkit-text-stroke:0.25px #e6e7e8">0.38</div>
<div class="t" style="right:1325.3px;top:1412.6px;font-size:36.3px;line-height:36.3px;font-weight:normal;color:#000;transform:scaleX(0.860);transform-origin:100% 0;;-webkit-text-stroke:0.25px #e6e7e8">3559</div>
<div class="t" style="right:1195.5px;top:1412.6px;font-size:36.3px;line-height:36.3px;font-weight:normal;color:#000;transform:scaleX(0.860);transform-origin:100% 0;;-webkit-text-stroke:0.25px #e6e7e8">1521.5</div>
<div class="t" style="right:1875.6px;top:1470.1px;font-size:36.3px;line-height:36.3px;font-weight:normal;color:#000;transform:scaleX(0.860);transform-origin:100% 0;;-webkit-text-stroke:0.25px #fff">12.70</div>
<div class="t" style="left:-205.4px;width:1000px;text-align:center;top:1470.1px;font-size:36.3px;line-height:36.3px;font-weight:normal;color:#000;transform:scaleX(0.790);transform-origin:50% 0;;-webkit-text-stroke:0.25px #fff">BNL02</div>
<div class="t" style="right:1655.5px;top:1470.1px;font-size:36.3px;line-height:36.3px;font-weight:normal;color:#000;transform:scaleX(0.860);transform-origin:100% 0;;-webkit-text-stroke:0.25px #fff">12.70</div>
<div class="t" style="left:12.0px;width:1000px;text-align:center;top:1470.1px;font-size:36.3px;line-height:36.3px;font-weight:normal;color:#000;transform:scaleX(0.860);transform-origin:50% 0;;-webkit-text-stroke:0.25px #fff">0.08</div>
<div class="t" style="left:117.2px;width:1000px;text-align:center;top:1470.1px;font-size:36.3px;line-height:36.3px;font-weight:normal;color:#000;transform:scaleX(0.860);transform-origin:50% 0;;-webkit-text-stroke:0.25px #fff">0.05</div>
<div class="t" style="right:1325.3px;top:1470.1px;font-size:36.3px;line-height:36.3px;font-weight:normal;color:#000;transform:scaleX(0.860);transform-origin:100% 0;;-webkit-text-stroke:0.25px #fff">3559</div>
<div class="t" style="right:1195.5px;top:1470.1px;font-size:36.3px;line-height:36.3px;font-weight:normal;color:#000;transform:scaleX(0.860);transform-origin:100% 0;;-webkit-text-stroke:0.25px #fff">1521.5</div>
<div class="t" style="right:1875.6px;top:1528.1px;font-size:36.3px;line-height:36.3px;font-weight:normal;color:#000;transform:scaleX(0.860);transform-origin:100% 0;;-webkit-text-stroke:0.25px #e6e7e8">15.88</div>
<div class="t" style="left:-205.4px;width:1000px;text-align:center;top:1528.1px;font-size:36.3px;line-height:36.3px;font-weight:normal;color:#000;transform:scaleX(0.790);transform-origin:50% 0;;-webkit-text-stroke:0.25px #e6e7e8">BN05</div>
<div class="t" style="right:1655.5px;top:1528.1px;font-size:36.3px;line-height:36.3px;font-weight:normal;color:#000;transform:scaleX(0.860);transform-origin:100% 0;;-webkit-text-stroke:0.25px #e6e7e8">5.08</div>
<div class="t" style="left:12.0px;width:1000px;text-align:center;top:1528.1px;font-size:36.3px;line-height:36.3px;font-weight:normal;color:#000;transform:scaleX(0.860);transform-origin:50% 0;;-webkit-text-stroke:0.25px #e6e7e8">0.08</div>
<div class="t" style="left:117.2px;width:1000px;text-align:center;top:1528.1px;font-size:36.3px;line-height:36.3px;font-weight:normal;color:#000;transform:scaleX(0.860);transform-origin:50% 0;;-webkit-text-stroke:0.25px #e6e7e8">0.38</div>
<div class="t" style="right:1325.3px;top:1528.1px;font-size:36.3px;line-height:36.3px;font-weight:normal;color:#000;transform:scaleX(0.860);transform-origin:100% 0;;-webkit-text-stroke:0.25px #e6e7e8">3559</div>
<div class="t" style="right:1195.5px;top:1528.1px;font-size:36.3px;line-height:36.3px;font-weight:normal;color:#000;transform:scaleX(0.860);transform-origin:100% 0;;-webkit-text-stroke:0.25px #e6e7e8">1521.5</div>
<div class="t" style="right:1875.6px;top:1586.0px;font-size:36.3px;line-height:36.3px;font-weight:normal;color:#000;transform:scaleX(0.860);transform-origin:100% 0;;-webkit-text-stroke:0.25px #fff">15.88</div>
<div class="t" style="left:-205.4px;width:1000px;text-align:center;top:1586.0px;font-size:36.3px;line-height:36.3px;font-weight:normal;color:#000;transform:scaleX(0.790);transform-origin:50% 0;;-webkit-text-stroke:0.25px #fff">BNL05</div>
<div class="t" style="right:1655.5px;top:1586.0px;font-size:36.3px;line-height:36.3px;font-weight:normal;color:#000;transform:scaleX(0.860);transform-origin:100% 0;;-webkit-text-stroke:0.25px #fff">5.08</div>
<div class="t" style="left:12.0px;width:1000px;text-align:center;top:1586.0px;font-size:36.3px;line-height:36.3px;font-weight:normal;color:#000;transform:scaleX(0.860);transform-origin:50% 0;;-webkit-text-stroke:0.25px #fff">0.08</div>
<div class="t" style="left:117.2px;width:1000px;text-align:center;top:1586.0px;font-size:36.3px;line-height:36.3px;font-weight:normal;color:#000;transform:scaleX(0.860);transform-origin:50% 0;;-webkit-text-stroke:0.25px #fff">0.05</div>
<div class="t" style="right:1325.3px;top:1586.0px;font-size:36.3px;line-height:36.3px;font-weight:normal;color:#000;transform:scaleX(0.860);transform-origin:100% 0;;-webkit-text-stroke:0.25px #fff">3559</div>
<div class="t" style="right:1195.5px;top:1586.0px;font-size:36.3px;line-height:36.3px;font-weight:normal;color:#000;transform:scaleX(0.860);transform-origin:100% 0;;-webkit-text-stroke:0.25px #fff">1521.5</div>
<div class="t" style="right:1875.6px;top:1643.8px;font-size:36.3px;line-height:36.3px;font-weight:normal;color:#000;transform:scaleX(0.860);transform-origin:100% 0;;-webkit-text-stroke:0.25px #e6e7e8">15.88</div>
<div class="t" style="left:-205.4px;width:1000px;text-align:center;top:1643.8px;font-size:36.3px;line-height:36.3px;font-weight:normal;color:#000;transform:scaleX(0.790);transform-origin:50% 0;;-webkit-text-stroke:0.25px #e6e7e8">SN02</div>
<div class="t" style="right:1655.5px;top:1643.8px;font-size:36.3px;line-height:36.3px;font-weight:normal;color:#000;transform:scaleX(0.860);transform-origin:100% 0;;-webkit-text-stroke:0.25px #e6e7e8">12.70</div>
<div class="t" style="left:12.0px;width:1000px;text-align:center;top:1643.8px;font-size:36.3px;line-height:36.3px;font-weight:normal;color:#000;transform:scaleX(0.860);transform-origin:50% 0;;-webkit-text-stroke:0.25px #e6e7e8">0.13</div>
<div class="t" style="left:117.2px;width:1000px;text-align:center;top:1643.8px;font-size:36.3px;line-height:36.3px;font-weight:normal;color:#000;transform:scaleX(0.860);transform-origin:50% 0;;-webkit-text-stroke:0.25px #e6e7e8">0.18</div>
<div class="t" style="right:1325.3px;top:1643.8px;font-size:36.3px;line-height:36.3px;font-weight:normal;color:#000;transform:scaleX(0.860);transform-origin:100% 0;;-webkit-text-stroke:0.25px #e6e7e8">890</div>
<div class="t" style="right:1195.5px;top:1643.8px;font-size:36.3px;line-height:36.3px;font-weight:normal;color:#000;transform:scaleX(0.860);transform-origin:100% 0;;-webkit-text-stroke:0.25px #e6e7e8">3350.3</div>
<div class="t" style="right:1875.6px;top:1701.1px;font-size:36.3px;line-height:36.3px;font-weight:normal;color:#000;transform:scaleX(0.860);transform-origin:100% 0;;-webkit-text-stroke:0.25px #fff">19.05</div>
<div class="t" style="left:-205.4px;width:1000px;text-align:center;top:1701.1px;font-size:36.3px;line-height:36.3px;font-weight:normal;color:#000;transform:scaleX(0.790);transform-origin:50% 0;;-webkit-text-stroke:0.25px #fff">SN01</div>
<div class="t" style="right:1655.5px;top:1701.1px;font-size:36.3px;line-height:36.3px;font-weight:normal;color:#000;transform:scaleX(0.860);transform-origin:100% 0;;-webkit-text-stroke:0.25px #fff">25.40</div>
<div class="t" style="left:12.0px;width:1000px;text-align:center;top:1701.1px;font-size:36.3px;line-height:36.3px;font-weight:normal;color:#000;transform:scaleX(0.860);transform-origin:50% 0;;-webkit-text-stroke:0.25px #fff">0.13</div>
<div class="t" style="left:117.2px;width:1000px;text-align:center;top:1701.1px;font-size:36.3px;line-height:36.3px;font-weight:normal;color:#000;transform:scaleX(0.860);transform-origin:50% 0;;-webkit-text-stroke:0.25px #fff">0.18</div>
<div class="t" style="right:1325.3px;top:1701.1px;font-size:36.3px;line-height:36.3px;font-weight:normal;color:#000;transform:scaleX(0.860);transform-origin:100% 0;;-webkit-text-stroke:0.25px #fff">1334</div>
<div class="t" style="right:1195.5px;top:1701.1px;font-size:36.3px;line-height:36.3px;font-weight:normal;color:#000;transform:scaleX(0.860);transform-origin:100% 0;;-webkit-text-stroke:0.25px #fff">3350.3</div>
<div class="t" style="right:1875.6px;top:1758.3px;font-size:36.3px;line-height:36.3px;font-weight:normal;color:#000;transform:scaleX(0.860);transform-origin:100% 0;;-webkit-text-stroke:0.25px #e6e7e8">19.05</div>
<div class="t" style="left:-205.4px;width:1000px;text-align:center;top:1758.3px;font-size:36.3px;line-height:36.3px;font-weight:normal;color:#000;transform:scaleX(0.790);transform-origin:50% 0;;-webkit-text-stroke:0.25px #e6e7e8">BN02</div>
<div class="t" style="right:1655.5px;top:1758.3px;font-size:36.3px;line-height:36.3px;font-weight:normal;color:#000;transform:scaleX(0.860);transform-origin:100% 0;;-webkit-text-stroke:0.25px #e6e7e8">12.70</div>
<div class="t" style="left:12.0px;width:1000px;text-align:center;top:1758.3px;font-size:36.3px;line-height:36.3px;font-weight:normal;color:#000;transform:scaleX(0.860);transform-origin:50% 0;;-webkit-text-stroke:0.25px #e6e7e8">0.10</div>
<div class="t" style="left:117.2px;width:1000px;text-align:center;top:1758.3px;font-size:36.3px;line-height:36.3px;font-weight:normal;color:#000;transform:scaleX(0.860);transform-origin:50% 0;;-webkit-text-stroke:0.25px #e6e7e8">0.38</div>
<div class="t" style="right:1325.3px;top:1758.3px;font-size:36.3px;line-height:36.3px;font-weight:normal;color:#000;transform:scaleX(0.860);transform-origin:100% 0;;-webkit-text-stroke:0.25px #e6e7e8">12010</div>
<div class="t" style="right:1195.5px;top:1758.3px;font-size:36.3px;line-height:36.3px;font-weight:normal;color:#000;transform:scaleX(0.860);transform-origin:100% 0;;-webkit-text-stroke:0.25px #e6e7e8">4539.0</div>
<div class="t" style="right:1875.6px;top:1816.1px;font-size:36.3px;line-height:36.3px;font-weight:normal;color:#000;transform:scaleX(0.860);transform-origin:100% 0;;-webkit-text-stroke:0.25px #fff">19.05</div>
<div class="t" style="left:-205.4px;width:1000px;text-align:center;top:1816.1px;font-size:36.3px;line-height:36.3px;font-weight:normal;color:#000;transform:scaleX(0.790);transform-origin:50% 0;;-webkit-text-stroke:0.25px #fff">BNL02</div>
<div class="t" style="right:1655.5px;top:1816.1px;font-size:36.3px;line-height:36.3px;font-weight:normal;color:#000;transform:scaleX(0.860);transform-origin:100% 0;;-webkit-text-stroke:0.25px #fff">12.70</div>
<div class="t" style="left:12.0px;width:1000px;text-align:center;top:1816.1px;font-size:36.3px;line-height:36.3px;font-weight:normal;color:#000;transform:scaleX(0.860);transform-origin:50% 0;;-webkit-text-stroke:0.25px #fff">0.10</div>
<div class="t" style="left:117.2px;width:1000px;text-align:center;top:1816.1px;font-size:36.3px;line-height:36.3px;font-weight:normal;color:#000;transform:scaleX(0.860);transform-origin:50% 0;;-webkit-text-stroke:0.25px #fff">0.05</div>
<div class="t" style="right:1325.3px;top:1816.1px;font-size:36.3px;line-height:36.3px;font-weight:normal;color:#000;transform:scaleX(0.860);transform-origin:100% 0;;-webkit-text-stroke:0.25px #fff">12010</div>
<div class="t" style="right:1195.5px;top:1816.1px;font-size:36.3px;line-height:36.3px;font-weight:normal;color:#000;transform:scaleX(0.860);transform-origin:100% 0;;-webkit-text-stroke:0.25px #fff">4539.0</div>
<div class="t" style="right:1875.6px;top:1873.9px;font-size:36.3px;line-height:36.3px;font-weight:normal;color:#000;transform:scaleX(0.860);transform-origin:100% 0;;-webkit-text-stroke:0.25px #e6e7e8">19.05</div>
<div class="t" style="left:-205.4px;width:1000px;text-align:center;top:1873.9px;font-size:36.3px;line-height:36.3px;font-weight:normal;color:#000;transform:scaleX(0.790);transform-origin:50% 0;;-webkit-text-stroke:0.25px #e6e7e8">BN05</div>
<div class="t" style="right:1664.0px;top:1873.9px;font-size:36.3px;line-height:36.3px;font-weight:normal;color:#000;transform:scaleX(0.860);transform-origin:100% 0;;-webkit-text-stroke:0.25px #e6e7e8">5.08</div>
<div class="t" style="left:12.0px;width:1000px;text-align:center;top:1873.9px;font-size:36.3px;line-height:36.3px;font-weight:normal;color:#000;transform:scaleX(0.860);transform-origin:50% 0;;-webkit-text-stroke:0.25px #e6e7e8">0.08</div>
<div class="t" style="left:117.2px;width:1000px;text-align:center;top:1873.9px;font-size:36.3px;line-height:36.3px;font-weight:normal;color:#000;transform:scaleX(0.860);transform-origin:50% 0;;-webkit-text-stroke:0.25px #e6e7e8">0.38</div>
<div class="t" style="right:1325.3px;top:1873.9px;font-size:36.3px;line-height:36.3px;font-weight:normal;color:#000;transform:scaleX(0.860);transform-origin:100% 0;;-webkit-text-stroke:0.25px #e6e7e8">4226</div>
<div class="t" style="right:1195.5px;top:1873.9px;font-size:36.3px;line-height:36.3px;font-weight:normal;color:#000;transform:scaleX(0.860);transform-origin:100% 0;;-webkit-text-stroke:0.25px #e6e7e8">3319.8</div>
<div class="t" style="right:1875.6px;top:1931.6px;font-size:36.3px;line-height:36.3px;font-weight:normal;color:#000;transform:scaleX(0.860);transform-origin:100% 0;;-webkit-text-stroke:0.25px #fff">19.05</div>
<div class="t" style="left:-205.4px;width:1000px;text-align:center;top:1931.6px;font-size:36.3px;line-height:36.3px;font-weight:normal;color:#000;transform:scaleX(0.790);transform-origin:50% 0;;-webkit-text-stroke:0.25px #fff">BNL05</div>
<div class="t" style="right:1664.0px;top:1931.6px;font-size:36.3px;line-height:36.3px;font-weight:normal;color:#000;transform:scaleX(0.860);transform-origin:100% 0;;-webkit-text-stroke:0.25px #fff">5.08</div>
<div class="t" style="left:12.0px;width:1000px;text-align:center;top:1931.6px;font-size:36.3px;line-height:36.3px;font-weight:normal;color:#000;transform:scaleX(0.860);transform-origin:50% 0;;-webkit-text-stroke:0.25px #fff">0.08</div>
<div class="t" style="left:117.2px;width:1000px;text-align:center;top:1931.6px;font-size:36.3px;line-height:36.3px;font-weight:normal;color:#000;transform:scaleX(0.860);transform-origin:50% 0;;-webkit-text-stroke:0.25px #fff">0.05</div>
<div class="t" style="right:1325.3px;top:1931.6px;font-size:36.3px;line-height:36.3px;font-weight:normal;color:#000;transform:scaleX(0.860);transform-origin:100% 0;;-webkit-text-stroke:0.25px #fff">4226</div>
<div class="t" style="right:1195.5px;top:1931.6px;font-size:36.3px;line-height:36.3px;font-weight:normal;color:#000;transform:scaleX(0.860);transform-origin:100% 0;;-webkit-text-stroke:0.25px #fff">3319.8</div>
<div class="t" style="right:1875.6px;top:1989.5px;font-size:36.3px;line-height:36.3px;font-weight:normal;color:#000;transform:scaleX(0.860);transform-origin:100% 0;;-webkit-text-stroke:0.25px #e6e7e8">19.05</div>
<div class="t" style="left:-205.4px;width:1000px;text-align:center;top:1989.5px;font-size:36.3px;line-height:36.3px;font-weight:normal;color:#000;transform:scaleX(0.790);transform-origin:50% 0;;-webkit-text-stroke:0.25px #e6e7e8">SN02</div>
<div class="t" style="right:1655.5px;top:1989.5px;font-size:36.3px;line-height:36.3px;font-weight:normal;color:#000;transform:scaleX(0.860);transform-origin:100% 0;;-webkit-text-stroke:0.25px #e6e7e8">12.70</div>
<div class="t" style="left:12.0px;width:1000px;text-align:center;top:1989.5px;font-size:36.3px;line-height:36.3px;font-weight:normal;color:#000;transform:scaleX(0.860);transform-origin:50% 0;;-webkit-text-stroke:0.25px #e6e7e8">0.13</div>
<div class="t" style="left:117.2px;width:1000px;text-align:center;top:1989.5px;font-size:36.3px;line-height:36.3px;font-weight:normal;color:#000;transform:scaleX(0.860);transform-origin:50% 0;;-webkit-text-stroke:0.25px #e6e7e8">0.18</div>
<div class="t" style="right:1325.3px;top:1989.5px;font-size:36.3px;line-height:36.3px;font-weight:normal;color:#000;transform:scaleX(0.860);transform-origin:100% 0;;-webkit-text-stroke:0.25px #e6e7e8">1335</div>
<div class="t" style="right:1195.5px;top:1989.5px;font-size:36.3px;line-height:36.3px;font-weight:normal;color:#000;transform:scaleX(0.860);transform-origin:100% 0;;-webkit-text-stroke:0.25px #e6e7e8">3319.8</div>
<div class="t" style="right:1875.6px;top:2047.3px;font-size:36.3px;line-height:36.3px;font-weight:normal;color:#000;transform:scaleX(0.860);transform-origin:100% 0;;-webkit-text-stroke:0.25px #fff">19.05</div>
<div class="t" style="left:-205.4px;width:1000px;text-align:center;top:2047.3px;font-size:36.3px;line-height:36.3px;font-weight:normal;color:#000;transform:scaleX(0.790);transform-origin:50% 0;;-webkit-text-stroke:0.25px #fff">SN01</div>
<div class="t" style="right:1655.5px;top:2047.3px;font-size:36.3px;line-height:36.3px;font-weight:normal;color:#000;transform:scaleX(0.860);transform-origin:100% 0;;-webkit-text-stroke:0.25px #fff">25.40</div>
<div class="t" style="left:12.0px;width:1000px;text-align:center;top:2047.3px;font-size:36.3px;line-height:36.3px;font-weight:normal;color:#000;transform:scaleX(0.860);transform-origin:50% 0;;-webkit-text-stroke:0.25px #fff">0.13</div>
<div class="t" style="left:117.2px;width:1000px;text-align:center;top:2047.3px;font-size:36.3px;line-height:36.3px;font-weight:normal;color:#000;transform:scaleX(0.860);transform-origin:50% 0;;-webkit-text-stroke:0.25px #fff">0.18</div>
<div class="t" style="right:1325.3px;top:2047.3px;font-size:36.3px;line-height:36.3px;font-weight:normal;color:#000;transform:scaleX(0.860);transform-origin:100% 0;;-webkit-text-stroke:0.25px #fff">1335</div>
<div class="t" style="right:1195.5px;top:2047.3px;font-size:36.3px;line-height:36.3px;font-weight:normal;color:#000;transform:scaleX(0.860);transform-origin:100% 0;;-webkit-text-stroke:0.25px #fff">3319.8</div>
<div class="t" style="right:1875.6px;top:2105.1px;font-size:36.3px;line-height:36.3px;font-weight:normal;color:#000;transform:scaleX(0.860);transform-origin:100% 0;;-webkit-text-stroke:0.25px #e6e7e8">25.40</div>
<div class="t" style="left:-205.4px;width:1000px;text-align:center;top:2105.1px;font-size:36.3px;line-height:36.3px;font-weight:normal;color:#000;transform:scaleX(0.790);transform-origin:50% 0;;-webkit-text-stroke:0.25px #e6e7e8">BN01</div>
<div class="t" style="right:1655.5px;top:2105.1px;font-size:36.3px;line-height:36.3px;font-weight:normal;color:#000;transform:scaleX(0.860);transform-origin:100% 0;;-webkit-text-stroke:0.25px #e6e7e8">25.40</div>
<div class="t" style="left:12.0px;width:1000px;text-align:center;top:2105.1px;font-size:36.3px;line-height:36.3px;font-weight:normal;color:#000;transform:scaleX(0.860);transform-origin:50% 0;;-webkit-text-stroke:0.25px #e6e7e8">0.10</div>
<div class="t" style="left:117.2px;width:1000px;text-align:center;top:2105.1px;font-size:36.3px;line-height:36.3px;font-weight:normal;color:#000;transform:scaleX(0.860);transform-origin:50% 0;;-webkit-text-stroke:0.25px #e6e7e8">0.38</div>
<div class="t" style="right:1325.3px;top:2105.1px;font-size:36.3px;line-height:36.3px;font-weight:normal;color:#000;transform:scaleX(0.860);transform-origin:100% 0;;-webkit-text-stroke:0.25px #e6e7e8">11121</div>
<div class="t" style="right:1195.5px;top:2105.1px;font-size:36.3px;line-height:36.3px;font-weight:normal;color:#000;transform:scaleX(0.860);transform-origin:100% 0;;-webkit-text-stroke:0.25px #e6e7e8">3185.2</div>
<div class="t" style="right:1875.6px;top:2162.8px;font-size:36.3px;line-height:36.3px;font-weight:normal;color:#000;transform:scaleX(0.860);transform-origin:100% 0;;-webkit-text-stroke:0.25px #fff">25.40</div>
<div class="t" style="left:-205.4px;width:1000px;text-align:center;top:2162.8px;font-size:36.3px;line-height:36.3px;font-weight:normal;color:#000;transform:scaleX(0.790);transform-origin:50% 0;;-webkit-text-stroke:0.25px #fff">BNL01</div>
<div class="t" style="right:1655.5px;top:2162.8px;font-size:36.3px;line-height:36.3px;font-weight:normal;color:#000;transform:scaleX(0.860);transform-origin:100% 0;;-webkit-text-stroke:0.25px #fff">25.40</div>
<div class="t" style="left:12.0px;width:1000px;text-align:center;top:2162.8px;font-size:36.3px;line-height:36.3px;font-weight:normal;color:#000;transform:scaleX(0.860);transform-origin:50% 0;;-webkit-text-stroke:0.25px #fff">0.10</div>
<div class="t" style="left:117.2px;width:1000px;text-align:center;top:2162.8px;font-size:36.3px;line-height:36.3px;font-weight:normal;color:#000;transform:scaleX(0.860);transform-origin:50% 0;;-webkit-text-stroke:0.25px #fff">0.05</div>
<div class="t" style="right:1325.3px;top:2162.8px;font-size:36.3px;line-height:36.3px;font-weight:normal;color:#000;transform:scaleX(0.860);transform-origin:100% 0;;-webkit-text-stroke:0.25px #fff">11121</div>
<div class="t" style="right:1195.5px;top:2162.8px;font-size:36.3px;line-height:36.3px;font-weight:normal;color:#000;transform:scaleX(0.860);transform-origin:100% 0;;-webkit-text-stroke:0.25px #fff">3185.2</div>
<div class="t" style="right:1875.6px;top:2220.6px;font-size:36.3px;line-height:36.3px;font-weight:normal;color:#000;transform:scaleX(0.860);transform-origin:100% 0;;-webkit-text-stroke:0.25px #e6e7e8">25.40</div>
<div class="t" style="left:-205.4px;width:1000px;text-align:center;top:2220.6px;font-size:36.3px;line-height:36.3px;font-weight:normal;color:#000;transform:scaleX(0.790);transform-origin:50% 0;;-webkit-text-stroke:0.25px #e6e7e8">BN02</div>
<div class="t" style="right:1655.5px;top:2220.6px;font-size:36.3px;line-height:36.3px;font-weight:normal;color:#000;transform:scaleX(0.860);transform-origin:100% 0;;-webkit-text-stroke:0.25px #e6e7e8">12.70</div>
<div class="t" style="left:12.0px;width:1000px;text-align:center;top:2220.6px;font-size:36.3px;line-height:36.3px;font-weight:normal;color:#000;transform:scaleX(0.860);transform-origin:50% 0;;-webkit-text-stroke:0.25px #e6e7e8">0.10</div>
<div class="t" style="left:117.2px;width:1000px;text-align:center;top:2220.6px;font-size:36.3px;line-height:36.3px;font-weight:normal;color:#000;transform:scaleX(0.860);transform-origin:50% 0;;-webkit-text-stroke:0.25px #e6e7e8">0.38</div>
<div class="t" style="right:1325.3px;top:2220.6px;font-size:36.3px;line-height:36.3px;font-weight:normal;color:#000;transform:scaleX(0.860);transform-origin:100% 0;;-webkit-text-stroke:0.25px #e6e7e8">19127</div>
<div class="t" style="right:1195.5px;top:2220.6px;font-size:36.3px;line-height:36.3px;font-weight:normal;color:#000;transform:scaleX(0.860);transform-origin:100% 0;;-webkit-text-stroke:0.25px #e6e7e8">3185.2</div>
<div class="t" style="right:1875.6px;top:2278.5px;font-size:36.3px;line-height:36.3px;font-weight:normal;color:#000;transform:scaleX(0.860);transform-origin:100% 0;;-webkit-text-stroke:0.25px #fff">25.40</div>
<div class="t" style="left:-205.4px;width:1000px;text-align:center;top:2278.5px;font-size:36.3px;line-height:36.3px;font-weight:normal;color:#000;transform:scaleX(0.790);transform-origin:50% 0;;-webkit-text-stroke:0.25px #fff">BNL02</div>
<div class="t" style="right:1655.5px;top:2278.5px;font-size:36.3px;line-height:36.3px;font-weight:normal;color:#000;transform:scaleX(0.860);transform-origin:100% 0;;-webkit-text-stroke:0.25px #fff">12.70</div>
<div class="t" style="left:12.0px;width:1000px;text-align:center;top:2278.5px;font-size:36.3px;line-height:36.3px;font-weight:normal;color:#000;transform:scaleX(0.860);transform-origin:50% 0;;-webkit-text-stroke:0.25px #fff">0.10</div>
<div class="t" style="left:117.2px;width:1000px;text-align:center;top:2278.5px;font-size:36.3px;line-height:36.3px;font-weight:normal;color:#000;transform:scaleX(0.860);transform-origin:50% 0;;-webkit-text-stroke:0.25px #fff">0.05</div>
<div class="t" style="right:1325.3px;top:2278.5px;font-size:36.3px;line-height:36.3px;font-weight:normal;color:#000;transform:scaleX(0.860);transform-origin:100% 0;;-webkit-text-stroke:0.25px #fff">19127</div>
<div class="t" style="right:1195.5px;top:2278.5px;font-size:36.3px;line-height:36.3px;font-weight:normal;color:#000;transform:scaleX(0.860);transform-origin:100% 0;;-webkit-text-stroke:0.25px #fff">3185.2</div>
<div class="t" style="right:1875.6px;top:2336.0px;font-size:36.3px;line-height:36.3px;font-weight:normal;color:#000;transform:scaleX(0.860);transform-origin:100% 0;;-webkit-text-stroke:0.25px #e6e7e8">25.40</div>
<div class="t" style="left:-205.4px;width:1000px;text-align:center;top:2336.0px;font-size:36.3px;line-height:36.3px;font-weight:normal;color:#000;transform:scaleX(0.790);transform-origin:50% 0;;-webkit-text-stroke:0.25px #e6e7e8">BN04</div>
<div class="t" style="right:1655.5px;top:2336.0px;font-size:36.3px;line-height:36.3px;font-weight:normal;color:#000;transform:scaleX(0.860);transform-origin:100% 0;;-webkit-text-stroke:0.25px #e6e7e8">6.35</div>
<div class="t" style="left:12.0px;width:1000px;text-align:center;top:2336.0px;font-size:36.3px;line-height:36.3px;font-weight:normal;color:#000;transform:scaleX(0.860);transform-origin:50% 0;;-webkit-text-stroke:0.25px #e6e7e8">0.10</div>
<div class="t" style="left:117.2px;width:1000px;text-align:center;top:2336.0px;font-size:36.3px;line-height:36.3px;font-weight:normal;color:#000;transform:scaleX(0.860);transform-origin:50% 0;;-webkit-text-stroke:0.25px #e6e7e8">0.38</div>
<div class="t" style="right:1325.3px;top:2336.0px;font-size:36.3px;line-height:36.3px;font-weight:normal;color:#000;transform:scaleX(0.860);transform-origin:100% 0;;-webkit-text-stroke:0.25px #e6e7e8">14679</div>
<div class="t" style="right:1195.5px;top:2336.0px;font-size:36.3px;line-height:36.3px;font-weight:normal;color:#000;transform:scaleX(0.860);transform-origin:100% 0;;-webkit-text-stroke:0.25px #e6e7e8">3185.2</div>
<div class="t" style="right:1875.6px;top:2393.5px;font-size:36.3px;line-height:36.3px;font-weight:normal;color:#000;transform:scaleX(0.860);transform-origin:100% 0;;-webkit-text-stroke:0.25px #fff">25.40</div>
<div class="t" style="left:-205.4px;width:1000px;text-align:center;top:2393.5px;font-size:36.3px;line-height:36.3px;font-weight:normal;color:#000;transform:scaleX(0.790);transform-origin:50% 0;;-webkit-text-stroke:0.25px #fff">BNL04</div>
<div class="t" style="right:1655.5px;top:2393.5px;font-size:36.3px;line-height:36.3px;font-weight:normal;color:#000;transform:scaleX(0.860);transform-origin:100% 0;;-webkit-text-stroke:0.25px #fff">6.35</div>
<div class="t" style="left:12.0px;width:1000px;text-align:center;top:2393.5px;font-size:36.3px;line-height:36.3px;font-weight:normal;color:#000;transform:scaleX(0.860);transform-origin:50% 0;;-webkit-text-stroke:0.25px #fff">0.10</div>
<div class="t" style="left:117.2px;width:1000px;text-align:center;top:2393.5px;font-size:36.3px;line-height:36.3px;font-weight:normal;color:#000;transform:scaleX(0.860);transform-origin:50% 0;;-webkit-text-stroke:0.25px #fff">0.05</div>
<div class="t" style="right:1325.3px;top:2393.5px;font-size:36.3px;line-height:36.3px;font-weight:normal;color:#000;transform:scaleX(0.860);transform-origin:100% 0;;-webkit-text-stroke:0.25px #fff">14679</div>
<div class="t" style="right:1195.5px;top:2393.5px;font-size:36.3px;line-height:36.3px;font-weight:normal;color:#000;transform:scaleX(0.860);transform-origin:100% 0;;-webkit-text-stroke:0.25px #fff">3185.2</div>
<div class="t" style="right:1875.6px;top:2451.0px;font-size:36.3px;line-height:36.3px;font-weight:normal;color:#000;transform:scaleX(0.860);transform-origin:100% 0;;-webkit-text-stroke:0.25px #e6e7e8">25.40</div>
<div class="t" style="left:-205.4px;width:1000px;text-align:center;top:2451.0px;font-size:36.3px;line-height:36.3px;font-weight:normal;color:#000;transform:scaleX(0.790);transform-origin:50% 0;;-webkit-text-stroke:0.25px #e6e7e8">SN04</div>
<div class="t" style="right:1655.5px;top:2451.0px;font-size:36.3px;line-height:36.3px;font-weight:normal;color:#000;transform:scaleX(0.860);transform-origin:100% 0;;-webkit-text-stroke:0.25px #e6e7e8">6.35</div>
<div class="t" style="left:12.0px;width:1000px;text-align:center;top:2451.0px;font-size:36.3px;line-height:36.3px;font-weight:normal;color:#000;transform:scaleX(0.860);transform-origin:50% 0;;-webkit-text-stroke:0.25px #e6e7e8">0.25</div>
<div class="t" style="left:117.2px;width:1000px;text-align:center;top:2451.0px;font-size:36.3px;line-height:36.3px;font-weight:normal;color:#000;transform:scaleX(0.860);transform-origin:50% 0;;-webkit-text-stroke:0.25px #e6e7e8">0.18</div>
<div class="t" style="right:1325.3px;top:2451.0px;font-size:36.3px;line-height:36.3px;font-weight:normal;color:#000;transform:scaleX(0.860);transform-origin:100% 0;;-webkit-text-stroke:0.25px #e6e7e8">1779</div>
<div class="t" style="right:1195.5px;top:2451.0px;font-size:36.3px;line-height:36.3px;font-weight:normal;color:#000;transform:scaleX(0.860);transform-origin:100% 0;;-webkit-text-stroke:0.25px #e6e7e8">3185.2</div>
<div class="c" style="left:64.9px;top:610.8px"><div style="position:absolute;left:-500px;width:1000px;top:-20.4px;text-align:center;font-size:40.5px;line-height:40.5px;font-weight:bold;color:#000;-webkit-text-stroke:0.6px #000;transform-origin:500px 20.4px;transform:rotate(-90deg) scaleX(0.830)">MXE16</div></div>
<div class="c" style="left:64.9px;top:872.5px"><div style="position:absolute;left:-500px;width:1000px;top:-20.4px;text-align:center;font-size:40.5px;line-height:40.5px;font-weight:bold;color:#000;-webkit-text-stroke:0.6px #000;transform-origin:500px 20.4px;transform:rotate(-90deg) scaleX(0.830)">MXE25</div></div>
<div class="c" style="left:64.9px;top:1223.2px"><div style="position:absolute;left:-500px;width:1000px;top:-20.4px;text-align:center;font-size:40.5px;line-height:40.5px;font-weight:bold;color:#000;-webkit-text-stroke:0.6px #000;transform-origin:500px 20.4px;transform:rotate(-90deg) scaleX(0.830)">MXE32</div></div>
<div class="c" style="left:64.9px;top:1574.2px"><div style="position:absolute;left:-500px;width:1000px;top:-20.4px;text-align:center;font-size:40.5px;line-height:40.5px;font-weight:bold;color:#000;-webkit-text-stroke:0.6px #000;transform-origin:500px 20.4px;transform:rotate(-90deg) scaleX(0.830)">MXE40</div></div>
<div class="c" style="left:64.9px;top:1920.2px"><div style="position:absolute;left:-500px;width:1000px;top:-20.4px;text-align:center;font-size:40.5px;line-height:40.5px;font-weight:bold;color:#000;-webkit-text-stroke:0.6px #000;transform-origin:500px 20.4px;transform:rotate(-90deg) scaleX(0.830)">MXE50</div></div>
<div class="c" style="left:64.9px;top:2295.2px"><div style="position:absolute;left:-500px;width:1000px;top:-20.4px;text-align:center;font-size:40.5px;line-height:40.5px;font-weight:bold;color:#000;-webkit-text-stroke:0.6px #000;transform-origin:500px 20.4px;transform:rotate(-90deg) scaleX(0.830)">MXE63</div></div>
<div class="v" style="left:23.8px;top:504.0px;font-size:41.5px;line-height:40.0px;font-weight:bold;color:#fff;word-spacing:4.0px;-webkit-text-stroke:1.40px #fff;transform:rotate(-90deg) scaleX(0.665)">ACTUATOR<br>SERIES</div>
<div class="v" style="left:140.7px;top:414.5px;font-size:41.5px;line-height:40.0px;font-weight:bold;color:#fff;word-spacing:4.0px;-webkit-text-stroke:1.40px #fff;transform:rotate(-90deg) scaleX(0.665)">SCREW<br>DIAMETER</div>
<div class="v" style="left:254.5px;top:504.0px;font-size:41.5px;line-height:40.0px;font-weight:bold;color:#fff;word-spacing:10.5px;-webkit-text-stroke:1.40px #fff;transform:rotate(-90deg) scaleX(0.665)">SCREW ORDERING<br>DESCRIPTION</div>
<div class="v" style="left:361.1px;top:414.5px;font-size:41.5px;line-height:40.0px;font-weight:bold;color:#fff;word-spacing:4.0px;-webkit-text-stroke:1.40px #fff;transform:rotate(-90deg) scaleX(0.665)">SCREW<br>LEAD</div>
<div class="v" style="left:471.9px;top:414.5px;font-size:41.5px;line-height:40.0px;font-weight:bold;color:#fff;word-spacing:4.0px;-webkit-text-stroke:1.40px #fff;transform:rotate(-90deg) scaleX(0.665)">LEAD<br>ACCURACY</div>
<div class="v" style="left:597.1px;top:414.5px;font-size:41.5px;line-height:40.0px;font-weight:bold;color:#fff;word-spacing:4.0px;-webkit-text-stroke:1.40px #fff;transform:rotate(-90deg) scaleX(0.665)">BACKLASH</div>
<div class="v" style="left:682.6px;top:414.5px;font-size:41.5px;line-height:40.0px;font-weight:bold;color:#fff;word-spacing:4.0px;-webkit-text-stroke:1.40px #fff;transform:rotate(-90deg) scaleX(0.665)">MAX<br>THRUST</div>
<div class="v" style="left:803.1px;top:414.5px;font-size:41.5px;line-height:40.0px;font-weight:bold;color:#fff;word-spacing:4.0px;-webkit-text-stroke:1.40px #fff;transform:rotate(-90deg) scaleX(0.665)">MAX<br>STROKE</div>
<div class="t" style="left:-319.2px;width:1000px;text-align:center;top:459.8px;font-size:33.3px;line-height:33.3px;font-weight:bold;color:#000;transform:scaleX(0.820);transform-origin:50% 0;">mm</div>
<div class="t" style="left:-98.8px;width:1000px;text-align:center;top:459.8px;font-size:33.3px;line-height:33.3px;font-weight:bold;color:#000;transform:scaleX(0.820);transform-origin:50% 0;">mm</div>
<div class="t" style="left:12.0px;width:1000px;text-align:center;top:444.3px;font-size:33.3px;line-height:33.3px;font-weight:bold;color:#000;transform:scaleX(0.800);transform-origin:50% 0;">mm/</div>
<div class="t" style="left:12.0px;width:1000px;text-align:center;top:473.0px;font-size:33.3px;line-height:33.3px;font-weight:bold;color:#000;transform:scaleX(0.800);transform-origin:50% 0;">300mm</div>
<div class="t" style="left:117.2px;width:1000px;text-align:center;top:459.8px;font-size:33.3px;line-height:33.3px;font-weight:bold;color:#000;transform:scaleX(0.820);transform-origin:50% 0;">mm</div>
<div class="t" style="left:222.8px;width:1000px;text-align:center;top:459.8px;font-size:33.3px;line-height:33.3px;font-weight:bold;color:#000;transform:scaleX(0.820);transform-origin:50% 0;">N</div>
<div class="t" style="left:343.2px;width:1000px;text-align:center;top:459.8px;font-size:33.3px;line-height:33.3px;font-weight:bold;color:#000;transform:scaleX(0.820);transform-origin:50% 0;">mm</div>
<div class="r" style="left:1064.5px;top:220.0px;width:1028.5px;height:301.5px;background:#0077c0"></div>
<div class="r" style="left:1172.7px;top:452.0px;width:115.3px;height:69.5px;background:#dfe6f3"></div>
<div class="r" style="left:1402.5px;top:452.0px;width:101.5px;height:69.5px;background:#dfe6f3"></div>
<div class="r" style="left:1504.0px;top:452.0px;width:102.5px;height:69.5px;background:#dfe6f3"></div>
<div class="r" style="left:1606.5px;top:452.0px;width:141.5px;height:69.5px;background:#dfe6f3"></div>
<div class="r" style="left:1748.0px;top:452.0px;width:128.0px;height:69.5px;background:#dfe6f3"></div>
<div class="r" style="left:1876.0px;top:452.0px;width:108.0px;height:69.5px;background:#dfe6f3"></div>
<div class="r" style="left:1984.0px;top:452.0px;width:109.0px;height:69.5px;background:#dfe6f3"></div>
<div class="r" style="left:1172.7px;top:584.0px;width:920.3px;height:59.0px;background:#dfe6f3"></div>
<div class="r" style="left:1172.7px;top:700.0px;width:920.3px;height:57.5px;background:#dfe6f3"></div>
<div class="r" style="left:1172.7px;top:816.0px;width:920.3px;height:57.5px;background:#dfe6f3"></div>
<div class="r" style="left:1172.7px;top:931.0px;width:920.3px;height:57.6px;background:#dfe6f3"></div>
<div class="r" style="left:1172.7px;top:1045.0px;width:920.3px;height:59.0px;background:#dfe6f3"></div>
<div class="r" style="left:1172.7px;top:1161.6px;width:920.3px;height:58.1px;background:#dfe6f3"></div>
<div class="r" style="left:1172.7px;top:1277.3px;width:920.3px;height:57.6px;background:#dfe6f3"></div>
<div class="r" style="left:1172.7px;top:1392.5px;width:920.3px;height:58.1px;background:#dfe6f3"></div>
<div class="r" style="left:1172.7px;top:1508.4px;width:920.3px;height:57.6px;background:#dfe6f3"></div>
<div class="r" style="left:1172.7px;top:1624.0px;width:920.3px;height:57.0px;background:#dfe6f3"></div>
<div class="r" style="left:1172.7px;top:1738.5px;width:920.3px;height:58.1px;background:#dfe6f3"></div>
<div class="r" style="left:1172.7px;top:1854.0px;width:920.3px;height:57.7px;background:#dfe6f3"></div>
<div class="r" style="left:1172.7px;top:1969.8px;width:920.3px;height:57.0px;background:#dfe6f3"></div>
<div class="r" style="left:1172.7px;top:2085.0px;width:920.3px;height:57.5px;background:#dfe6f3"></div>
<div class="r" style="left:1172.7px;top:2201.0px;width:920.3px;height:57.7px;background:#dfe6f3"></div>
<div class="r" style="left:1172.7px;top:2316.0px;width:920.3px;height:57.8px;background:#dfe6f3"></div>
<div class="r" style="left:1172.7px;top:2431.4px;width:920.3px;height:57.6px;background:#dfe6f3"></div>
<div class="r" style="left:1170.7px;top:220.0px;width:4.0px;height:301.5px;background:#fff"></div>
<div class="r" style="left:1286.0px;top:220.0px;width:4.0px;height:301.5px;background:#fff"></div>
<div class="r" style="left:1400.5px;top:220.0px;width:4.0px;height:301.5px;background:#fff"></div>
<div class="r" style="left:1502.0px;top:220.0px;width:4.0px;height:301.5px;background:#fff"></div>
<div class="r" style="left:1604.5px;top:220.0px;width:4.0px;height:301.5px;background:#fff"></div>
<div class="r" style="left:1746.0px;top:220.0px;width:4.0px;height:301.5px;background:#fff"></div>
<div class="r" style="left:1874.0px;top:220.0px;width:4.0px;height:301.5px;background:#fff"></div>
<div class="r" style="left:1982.0px;top:220.0px;width:4.0px;height:301.5px;background:#fff"></div>
<div class="r" style="left:1171.7px;top:451.0px;width:117.3px;height:2.0px;background:#000"></div>
<div class="r" style="left:1171.7px;top:451.0px;width:2.0px;height:70.5px;background:#000"></div>
<div class="r" style="left:1287.0px;top:451.0px;width:2.0px;height:70.5px;background:#000"></div>
<div class="r" style="left:1401.5px;top:451.0px;width:103.5px;height:2.0px;background:#000"></div>
<div class="r" style="left:1401.5px;top:451.0px;width:2.0px;height:70.5px;background:#000"></div>
<div class="r" style="left:1503.0px;top:451.0px;width:2.0px;height:70.5px;background:#000"></div>
<div class="r" style="left:1503.0px;top:451.0px;width:104.5px;height:2.0px;background:#000"></div>
<div class="r" style="left:1503.0px;top:451.0px;width:2.0px;height:70.5px;background:#000"></div>
<div class="r" style="left:1605.5px;top:451.0px;width:2.0px;height:70.5px;background:#000"></div>
<div class="r" style="left:1605.5px;top:451.0px;width:143.5px;height:2.0px;background:#000"></div>
<div class="r" style="left:1605.5px;top:451.0px;width:2.0px;height:70.5px;background:#000"></div>
<div class="r" style="left:1747.0px;top:451.0px;width:2.0px;height:70.5px;background:#000"></div>
<div class="r" style="left:1747.0px;top:451.0px;width:130.0px;height:2.0px;background:#000"></div>
<div class="r" style="left:1747.0px;top:451.0px;width:2.0px;height:70.5px;background:#000"></div>
<div class="r" style="left:1875.0px;top:451.0px;width:2.0px;height:70.5px;background:#000"></div>
<div class="r" style="left:1875.0px;top:451.0px;width:110.0px;height:2.0px;background:#000"></div>
<div class="r" style="left:1875.0px;top:451.0px;width:2.0px;height:70.5px;background:#000"></div>
<div class="r" style="left:1983.0px;top:451.0px;width:2.0px;height:70.5px;background:#000"></div>
<div class="r" style="left:1983.0px;top:451.0px;width:111.0px;height:2.0px;background:#000"></div>
<div class="r" style="left:1983.0px;top:451.0px;width:2.0px;height:70.5px;background:#000"></div>
<div class="r" style="left:2092.0px;top:451.0px;width:2.0px;height:70.5px;background:#000"></div>
<div class="r" style="left:1064.5px;top:519.5px;width:1028.5px;height:4.0px;background:#000"></div>
<div class="r" style="left:1172.7px;top:583.0px;width:920.3px;height:2.0px;background:#000"></div>
<div class="r" style="left:1172.7px;top:642.0px;width:920.3px;height:2.0px;background:#000"></div>
<div class="r" style="left:1064.5px;top:698.0px;width:1028.5px;height:4.0px;background:#000"></div>
<div class="r" style="left:1172.7px;top:756.5px;width:920.3px;height:2.0px;background:#000"></div>
<div class="r" style="left:1172.7px;top:815.0px;width:920.3px;height:2.0px;background:#000"></div>
<div class="r" style="left:1172.7px;top:872.5px;width:920.3px;height:2.0px;background:#000"></div>
<div class="r" style="left:1172.7px;top:930.0px;width:920.3px;height:2.0px;background:#000"></div>
<div class="r" style="left:1172.7px;top:987.6px;width:920.3px;height:2.0px;background:#000"></div>
<div class="r" style="left:1064.5px;top:1043.0px;width:1028.5px;height:4.0px;background:#000"></div>
<div class="r" style="left:1172.7px;top:1103.0px;width:920.3px;height:2.0px;background:#000"></div>
<div class="r" style="left:1172.7px;top:1160.6px;width:920.3px;height:2.0px;background:#000"></div>
<div class="r" style="left:1172.7px;top:1218.7px;width:920.3px;height:2.0px;background:#000"></div>
<div class="r" style="left:1172.7px;top:1276.3px;width:920.3px;height:2.0px;background:#000"></div>
<div class="r" style="left:1172.7px;top:1333.9px;width:920.3px;height:2.0px;background:#000"></div>
<div class="r" style="left:1064.5px;top:1390.5px;width:1028.5px;height:4.0px;background:#000"></div>
<div class="r" style="left:1172.7px;top:1449.6px;width:920.3px;height:2.0px;background:#000"></div>
<div class="r" style="left:1172.7px;top:1507.4px;width:920.3px;height:2.0px;background:#000"></div>
<div class="r" style="left:1172.7px;top:1565.0px;width:920.3px;height:2.0px;background:#000"></div>
<div class="r" style="left:1172.7px;top:1623.0px;width:920.3px;height:2.0px;background:#000"></div>
<div class="r" style="left:1172.7px;top:1680.0px;width:920.3px;height:2.0px;background:#000"></div>
<div class="r" style="left:1064.5px;top:1736.5px;width:1028.5px;height:4.0px;background:#000"></div>
<div class="r" style="left:1172.7px;top:1795.6px;width:920.3px;height:2.0px;background:#000"></div>
<div class="r" style="left:1172.7px;top:1853.0px;width:920.3px;height:2.0px;background:#000"></div>
<div class="r" style="left:1172.7px;top:1910.7px;width:920.3px;height:2.0px;background:#000"></div>
<div class="r" style="left:1172.7px;top:1968.8px;width:920.3px;height:2.0px;background:#000"></div>
<div class="r" style="left:1172.7px;top:2025.8px;width:920.3px;height:2.0px;background:#000"></div>
<div class="r" style="left:1064.5px;top:2083.0px;width:1028.5px;height:4.0px;background:#000"></div>
<div class="r" style="left:1172.7px;top:2141.5px;width:920.3px;height:2.0px;background:#000"></div>
<div class="r" style="left:1172.7px;top:2200.0px;width:920.3px;height:2.0px;background:#000"></div>
<div class="r" style="left:1172.7px;top:2257.7px;width:920.3px;height:2.0px;background:#000"></div>
<div class="r" style="left:1172.7px;top:2315.0px;width:920.3px;height:2.0px;background:#000"></div>
<div class="r" style="left:1172.7px;top:2372.8px;width:920.3px;height:2.0px;background:#000"></div>
<div class="r" style="left:1172.7px;top:2430.4px;width:920.3px;height:2.0px;background:#000"></div>
<div class="r" style="left:1171.7px;top:521.5px;width:2.0px;height:1967.5px;background:#000"></div>
<div class="r" style="left:1287.0px;top:521.5px;width:2.0px;height:1967.5px;background:#000"></div>
<div class="r" style="left:1401.5px;top:521.5px;width:2.0px;height:1967.5px;background:#000"></div>
<div class="r" style="left:1503.0px;top:521.5px;width:2.0px;height:1967.5px;background:#000"></div>
<div class="r" style="left:1605.5px;top:521.5px;width:2.0px;height:1967.5px;background:#000"></div>
<div class="r" style="left:1747.0px;top:521.5px;width:2.0px;height:1967.5px;background:#000"></div>
<div class="r" style="left:1875.0px;top:521.5px;width:2.0px;height:1967.5px;background:#000"></div>
<div class="r" style="left:1983.0px;top:521.5px;width:2.0px;height:1967.5px;background:#000"></div>
<div class="r" style="left:1063.7px;top:219.2px;width:1030.1px;height:1.6px;background:#000"></div>
<div class="r" style="left:1063.7px;top:2488.2px;width:1030.1px;height:1.6px;background:#000"></div>
<div class="r" style="left:1063.7px;top:219.2px;width:1.6px;height:2270.6px;background:#000"></div>
<div class="r" style="left:2092.2px;top:219.2px;width:1.6px;height:2270.6px;background:#000"></div>
<div class="t" style="left:730.3px;width:1000px;text-align:center;top:533.6px;font-size:36.3px;line-height:36.3px;font-weight:normal;color:#000;transform:scaleX(0.860);transform-origin:50% 0;;-webkit-text-stroke:0.25px #fff">0.250</div>
<div class="t" style="left:845.2px;width:1000px;text-align:center;top:533.6px;font-size:36.3px;line-height:36.3px;font-weight:normal;color:#000;transform:scaleX(0.790);transform-origin:50% 0;;-webkit-text-stroke:0.25px #fff">SN02</div>
<div class="t" style="right:604.2px;top:533.6px;font-size:36.3px;line-height:36.3px;font-weight:normal;color:#000;transform:scaleX(0.860);transform-origin:100% 0;;-webkit-text-stroke:0.25px #fff">2.00</div>
<div class="t" style="left:1055.2px;width:1000px;text-align:center;top:533.6px;font-size:36.3px;line-height:36.3px;font-weight:normal;color:#000;transform:scaleX(0.860);transform-origin:50% 0;;-webkit-text-stroke:0.25px #fff">0.50</div>
<div class="t" style="left:1177.2px;width:1000px;text-align:center;top:533.6px;font-size:36.3px;line-height:36.3px;font-weight:normal;color:#000;transform:scaleX(0.860);transform-origin:50% 0;;-webkit-text-stroke:0.25px #fff">0.005</div>
<div class="t" style="left:1312.0px;width:1000px;text-align:center;top:533.6px;font-size:36.3px;line-height:36.3px;font-weight:normal;color:#000;transform:scaleX(0.860);transform-origin:50% 0;;-webkit-text-stroke:0.25px #fff">0.015</div>
<div class="t" style="right:135.7px;top:533.6px;font-size:36.3px;line-height:36.3px;font-weight:normal;color:#000;transform:scaleX(0.860);transform-origin:100% 0;;-webkit-text-stroke:0.25px #fff">45</div>
<div class="t" style="right:18.1px;top:533.6px;font-size:36.3px;line-height:36.3px;font-weight:normal;color:#000;transform:scaleX(0.860);transform-origin:100% 0;;-webkit-text-stroke:0.25px #fff">31.0</div>
<div class="t" style="left:730.3px;width:1000px;text-align:center;top:596.1px;font-size:36.3px;line-height:36.3px;font-weight:normal;color:#000;transform:scaleX(0.860);transform-origin:50% 0;;-webkit-text-stroke:0.25px #dfe6f3">0.250</div>
<div class="t" style="left:845.2px;width:1000px;text-align:center;top:596.1px;font-size:36.3px;line-height:36.3px;font-weight:normal;color:#000;transform:scaleX(0.790);transform-origin:50% 0;;-webkit-text-stroke:0.25px #dfe6f3">SN04</div>
<div class="t" style="right:604.2px;top:596.1px;font-size:36.3px;line-height:36.3px;font-weight:normal;color:#000;transform:scaleX(0.860);transform-origin:100% 0;;-webkit-text-stroke:0.25px #dfe6f3">4.00</div>
<div class="t" style="left:1055.2px;width:1000px;text-align:center;top:596.1px;font-size:36.3px;line-height:36.3px;font-weight:normal;color:#000;transform:scaleX(0.860);transform-origin:50% 0;;-webkit-text-stroke:0.25px #dfe6f3">0.25</div>
<div class="t" style="left:1177.2px;width:1000px;text-align:center;top:596.1px;font-size:36.3px;line-height:36.3px;font-weight:normal;color:#000;transform:scaleX(0.860);transform-origin:50% 0;;-webkit-text-stroke:0.25px #dfe6f3">0.005</div>
<div class="t" style="left:1312.0px;width:1000px;text-align:center;top:596.1px;font-size:36.3px;line-height:36.3px;font-weight:normal;color:#000;transform:scaleX(0.860);transform-origin:50% 0;;-webkit-text-stroke:0.25px #dfe6f3">0.015</div>
<div class="t" style="right:135.7px;top:596.1px;font-size:36.3px;line-height:36.3px;font-weight:normal;color:#000;transform:scaleX(0.860);transform-origin:100% 0;;-webkit-text-stroke:0.25px #dfe6f3">45</div>
<div class="t" style="right:18.1px;top:596.1px;font-size:36.3px;line-height:36.3px;font-weight:normal;color:#000;transform:scaleX(0.860);transform-origin:100% 0;;-webkit-text-stroke:0.25px #dfe6f3">31.0</div>
<div class="t" style="left:730.3px;width:1000px;text-align:center;top:654.1px;font-size:36.3px;line-height:36.3px;font-weight:normal;color:#000;transform:scaleX(0.860);transform-origin:50% 0;;-webkit-text-stroke:0.25px #fff">0.250</div>
<div class="t" style="left:845.2px;width:1000px;text-align:center;top:654.1px;font-size:36.3px;line-height:36.3px;font-weight:normal;color:#000;transform:scaleX(0.790);transform-origin:50% 0;;-webkit-text-stroke:0.25px #fff">SN16</div>
<div class="t" style="right:604.2px;top:654.1px;font-size:36.3px;line-height:36.3px;font-weight:normal;color:#000;transform:scaleX(0.860);transform-origin:100% 0;;-webkit-text-stroke:0.25px #fff">16.00</div>
<div class="t" style="left:1055.2px;width:1000px;text-align:center;top:654.1px;font-size:36.3px;line-height:36.3px;font-weight:normal;color:#000;transform:scaleX(0.860);transform-origin:50% 0;;-webkit-text-stroke:0.25px #fff">0.06</div>
<div class="t" style="left:1177.2px;width:1000px;text-align:center;top:654.1px;font-size:36.3px;line-height:36.3px;font-weight:normal;color:#000;transform:scaleX(0.860);transform-origin:50% 0;;-webkit-text-stroke:0.25px #fff">0.005</div>
<div class="t" style="left:1312.0px;width:1000px;text-align:center;top:654.1px;font-size:36.3px;line-height:36.3px;font-weight:normal;color:#000;transform:scaleX(0.860);transform-origin:50% 0;;-webkit-text-stroke:0.25px #fff">0.015</div>
<div class="t" style="right:135.7px;top:654.1px;font-size:36.3px;line-height:36.3px;font-weight:normal;color:#000;transform:scaleX(0.860);transform-origin:100% 0;;-webkit-text-stroke:0.25px #fff">45</div>
<div class="t" style="right:18.1px;top:654.1px;font-size:36.3px;line-height:36.3px;font-weight:normal;color:#000;transform:scaleX(0.860);transform-origin:100% 0;;-webkit-text-stroke:0.25px #fff">31.0</div>
<div class="t" style="left:730.3px;width:1000px;text-align:center;top:711.4px;font-size:36.3px;line-height:36.3px;font-weight:normal;color:#000;transform:scaleX(0.860);transform-origin:50% 0;;-webkit-text-stroke:0.25px #dfe6f3">0.375</div>
<div class="t" style="left:845.2px;width:1000px;text-align:center;top:711.4px;font-size:36.3px;line-height:36.3px;font-weight:normal;color:#000;transform:scaleX(0.790);transform-origin:50% 0;;-webkit-text-stroke:0.25px #dfe6f3">BN08</div>
<div class="t" style="right:604.2px;top:711.4px;font-size:36.3px;line-height:36.3px;font-weight:normal;color:#000;transform:scaleX(0.860);transform-origin:100% 0;;-webkit-text-stroke:0.25px #dfe6f3">8.00</div>
<div class="t" style="left:1055.2px;width:1000px;text-align:center;top:711.4px;font-size:36.3px;line-height:36.3px;font-weight:normal;color:#000;transform:scaleX(0.860);transform-origin:50% 0;;-webkit-text-stroke:0.25px #dfe6f3">0.13</div>
<div class="t" style="left:1177.2px;width:1000px;text-align:center;top:711.4px;font-size:36.3px;line-height:36.3px;font-weight:normal;color:#000;transform:scaleX(0.860);transform-origin:50% 0;;-webkit-text-stroke:0.25px #dfe6f3">0.004</div>
<div class="t" style="left:1312.0px;width:1000px;text-align:center;top:711.4px;font-size:36.3px;line-height:36.3px;font-weight:normal;color:#000;transform:scaleX(0.860);transform-origin:50% 0;;-webkit-text-stroke:0.25px #dfe6f3">0.015</div>
<div class="t" style="right:135.7px;top:711.4px;font-size:36.3px;line-height:36.3px;font-weight:normal;color:#000;transform:scaleX(0.860);transform-origin:100% 0;;-webkit-text-stroke:0.25px #dfe6f3">130</div>
<div class="t" style="right:18.1px;top:711.4px;font-size:36.3px;line-height:36.3px;font-weight:normal;color:#000;transform:scaleX(0.860);transform-origin:100% 0;;-webkit-text-stroke:0.25px #dfe6f3">62.3</div>
<div class="t" style="left:730.3px;width:1000px;text-align:center;top:769.4px;font-size:36.3px;line-height:36.3px;font-weight:normal;color:#000;transform:scaleX(0.860);transform-origin:50% 0;;-webkit-text-stroke:0.25px #fff">0.375</div>
<div class="t" style="left:845.2px;width:1000px;text-align:center;top:769.4px;font-size:36.3px;line-height:36.3px;font-weight:normal;color:#000;transform:scaleX(0.790);transform-origin:50% 0;;-webkit-text-stroke:0.25px #fff">BNL08</div>
<div class="t" style="right:604.2px;top:769.4px;font-size:36.3px;line-height:36.3px;font-weight:normal;color:#000;transform:scaleX(0.860);transform-origin:100% 0;;-webkit-text-stroke:0.25px #fff">8.00</div>
<div class="t" style="left:1055.2px;width:1000px;text-align:center;top:769.4px;font-size:36.3px;line-height:36.3px;font-weight:normal;color:#000;transform:scaleX(0.860);transform-origin:50% 0;;-webkit-text-stroke:0.25px #fff">0.13</div>
<div class="t" style="left:1177.2px;width:1000px;text-align:center;top:769.4px;font-size:36.3px;line-height:36.3px;font-weight:normal;color:#000;transform:scaleX(0.860);transform-origin:50% 0;;-webkit-text-stroke:0.25px #fff">0.004</div>
<div class="t" style="left:1312.0px;width:1000px;text-align:center;top:769.4px;font-size:36.3px;line-height:36.3px;font-weight:normal;color:#000;transform:scaleX(0.860);transform-origin:50% 0;;-webkit-text-stroke:0.25px #fff">0.002</div>
<div class="t" style="right:135.7px;top:769.4px;font-size:36.3px;line-height:36.3px;font-weight:normal;color:#000;transform:scaleX(0.860);transform-origin:100% 0;;-webkit-text-stroke:0.25px #fff">130</div>
<div class="t" style="right:18.1px;top:769.4px;font-size:36.3px;line-height:36.3px;font-weight:normal;color:#000;transform:scaleX(0.860);transform-origin:100% 0;;-webkit-text-stroke:0.25px #fff">62.3</div>
<div class="t" style="left:730.3px;width:1000px;text-align:center;top:827.4px;font-size:36.3px;line-height:36.3px;font-weight:normal;color:#000;transform:scaleX(0.860);transform-origin:50% 0;;-webkit-text-stroke:0.25px #dfe6f3">0.394</div>
<div class="t" style="left:845.2px;width:1000px;text-align:center;top:827.4px;font-size:36.3px;line-height:36.3px;font-weight:normal;color:#000;transform:scaleX(0.790);transform-origin:50% 0;;-webkit-text-stroke:0.25px #dfe6f3">BNM10</div>
<div class="t" style="right:604.2px;top:827.4px;font-size:36.3px;line-height:36.3px;font-weight:normal;color:#000;transform:scaleX(0.860);transform-origin:100% 0;;-webkit-text-stroke:0.25px #dfe6f3">2.54</div>
<div class="t" style="left:1055.2px;width:1000px;text-align:center;top:827.4px;font-size:36.3px;line-height:36.3px;font-weight:normal;color:#000;transform:scaleX(0.860);transform-origin:50% 0;;-webkit-text-stroke:0.25px #dfe6f3">0.39</div>
<div class="t" style="left:1177.2px;width:1000px;text-align:center;top:827.4px;font-size:36.3px;line-height:36.3px;font-weight:normal;color:#000;transform:scaleX(0.860);transform-origin:50% 0;;-webkit-text-stroke:0.25px #dfe6f3">0.004</div>
<div class="t" style="left:1312.0px;width:1000px;text-align:center;top:827.4px;font-size:36.3px;line-height:36.3px;font-weight:normal;color:#000;transform:scaleX(0.860);transform-origin:50% 0;;-webkit-text-stroke:0.25px #dfe6f3">0.003</div>
<div class="t" style="right:135.7px;top:827.4px;font-size:36.3px;line-height:36.3px;font-weight:normal;color:#000;transform:scaleX(0.860);transform-origin:100% 0;;-webkit-text-stroke:0.25px #dfe6f3">412</div>
<div class="t" style="right:18.1px;top:827.4px;font-size:36.3px;line-height:36.3px;font-weight:normal;color:#000;transform:scaleX(0.860);transform-origin:100% 0;;-webkit-text-stroke:0.25px #dfe6f3">62.3</div>
<div class="t" style="left:730.3px;width:1000px;text-align:center;top:884.9px;font-size:36.3px;line-height:36.3px;font-weight:normal;color:#000;transform:scaleX(0.860);transform-origin:50% 0;;-webkit-text-stroke:0.25px #fff">0.500</div>
<div class="t" style="left:845.2px;width:1000px;text-align:center;top:884.9px;font-size:36.3px;line-height:36.3px;font-weight:normal;color:#000;transform:scaleX(0.790);transform-origin:50% 0;;-webkit-text-stroke:0.25px #fff">SN01</div>
<div class="t" style="right:604.2px;top:884.9px;font-size:36.3px;line-height:36.3px;font-weight:normal;color:#000;transform:scaleX(0.860);transform-origin:100% 0;;-webkit-text-stroke:0.25px #fff">1.00</div>
<div class="t" style="left:1055.2px;width:1000px;text-align:center;top:884.9px;font-size:36.3px;line-height:36.3px;font-weight:normal;color:#000;transform:scaleX(0.860);transform-origin:50% 0;;-webkit-text-stroke:0.25px #fff">1.00</div>
<div class="t" style="left:1177.2px;width:1000px;text-align:center;top:884.9px;font-size:36.3px;line-height:36.3px;font-weight:normal;color:#000;transform:scaleX(0.860);transform-origin:50% 0;;-webkit-text-stroke:0.25px #fff">0.006</div>
<div class="t" style="left:1312.0px;width:1000px;text-align:center;top:884.9px;font-size:36.3px;line-height:36.3px;font-weight:normal;color:#000;transform:scaleX(0.860);transform-origin:50% 0;;-webkit-text-stroke:0.25px #fff">0.007</div>
<div class="t" style="right:135.7px;top:884.9px;font-size:36.3px;line-height:36.3px;font-weight:normal;color:#000;transform:scaleX(0.860);transform-origin:100% 0;;-webkit-text-stroke:0.25px #fff">170</div>
<div class="t" style="right:18.1px;top:884.9px;font-size:36.3px;line-height:36.3px;font-weight:normal;color:#000;transform:scaleX(0.860);transform-origin:100% 0;;-webkit-text-stroke:0.25px #fff">98.3</div>
<div class="t" style="left:730.3px;width:1000px;text-align:center;top:942.4px;font-size:36.3px;line-height:36.3px;font-weight:normal;color:#000;transform:scaleX(0.860);transform-origin:50% 0;;-webkit-text-stroke:0.25px #dfe6f3">0.500</div>
<div class="t" style="left:845.2px;width:1000px;text-align:center;top:942.4px;font-size:36.3px;line-height:36.3px;font-weight:normal;color:#000;transform:scaleX(0.790);transform-origin:50% 0;;-webkit-text-stroke:0.25px #dfe6f3">SN02</div>
<div class="t" style="right:604.2px;top:942.4px;font-size:36.3px;line-height:36.3px;font-weight:normal;color:#000;transform:scaleX(0.860);transform-origin:100% 0;;-webkit-text-stroke:0.25px #dfe6f3">2.00</div>
<div class="t" style="left:1055.2px;width:1000px;text-align:center;top:942.4px;font-size:36.3px;line-height:36.3px;font-weight:normal;color:#000;transform:scaleX(0.860);transform-origin:50% 0;;-webkit-text-stroke:0.25px #dfe6f3">0.50</div>
<div class="t" style="left:1177.2px;width:1000px;text-align:center;top:942.4px;font-size:36.3px;line-height:36.3px;font-weight:normal;color:#000;transform:scaleX(0.860);transform-origin:50% 0;;-webkit-text-stroke:0.25px #dfe6f3">0.005</div>
<div class="t" style="left:1312.0px;width:1000px;text-align:center;top:942.4px;font-size:36.3px;line-height:36.3px;font-weight:normal;color:#000;transform:scaleX(0.860);transform-origin:50% 0;;-webkit-text-stroke:0.25px #dfe6f3">0.007</div>
<div class="t" style="right:135.7px;top:942.4px;font-size:36.3px;line-height:36.3px;font-weight:normal;color:#000;transform:scaleX(0.860);transform-origin:100% 0;;-webkit-text-stroke:0.25px #dfe6f3">170</div>
<div class="t" style="right:18.1px;top:942.4px;font-size:36.3px;line-height:36.3px;font-weight:normal;color:#000;transform:scaleX(0.860);transform-origin:100% 0;;-webkit-text-stroke:0.25px #dfe6f3">134.3</div>
<div class="t" style="left:730.3px;width:1000px;text-align:center;top:999.4px;font-size:36.3px;line-height:36.3px;font-weight:normal;color:#000;transform:scaleX(0.860);transform-origin:50% 0;;-webkit-text-stroke:0.25px #fff">0.500</div>
<div class="t" style="left:845.2px;width:1000px;text-align:center;top:999.4px;font-size:36.3px;line-height:36.3px;font-weight:normal;color:#000;transform:scaleX(0.790);transform-origin:50% 0;;-webkit-text-stroke:0.25px #fff">SN05</div>
<div class="t" style="right:604.2px;top:999.4px;font-size:36.3px;line-height:36.3px;font-weight:normal;color:#000;transform:scaleX(0.860);transform-origin:100% 0;;-webkit-text-stroke:0.25px #fff">5.00</div>
<div class="t" style="left:1055.2px;width:1000px;text-align:center;top:999.4px;font-size:36.3px;line-height:36.3px;font-weight:normal;color:#000;transform:scaleX(0.860);transform-origin:50% 0;;-webkit-text-stroke:0.25px #fff">0.20</div>
<div class="t" style="left:1177.2px;width:1000px;text-align:center;top:999.4px;font-size:36.3px;line-height:36.3px;font-weight:normal;color:#000;transform:scaleX(0.860);transform-origin:50% 0;;-webkit-text-stroke:0.25px #fff">0.006</div>
<div class="t" style="left:1312.0px;width:1000px;text-align:center;top:999.4px;font-size:36.3px;line-height:36.3px;font-weight:normal;color:#000;transform:scaleX(0.860);transform-origin:50% 0;;-webkit-text-stroke:0.25px #fff">0.007</div>
<div class="t" style="right:135.7px;top:999.4px;font-size:36.3px;line-height:36.3px;font-weight:normal;color:#000;transform:scaleX(0.860);transform-origin:100% 0;;-webkit-text-stroke:0.25px #fff">170</div>
<div class="t" style="right:18.1px;top:999.4px;font-size:36.3px;line-height:36.3px;font-weight:normal;color:#000;transform:scaleX(0.860);transform-origin:100% 0;;-webkit-text-stroke:0.25px #fff">134.3</div>
<div class="t" style="left:730.3px;width:1000px;text-align:center;top:1057.1px;font-size:36.3px;line-height:36.3px;font-weight:normal;color:#000;transform:scaleX(0.860);transform-origin:50% 0;;-webkit-text-stroke:0.25px #dfe6f3">0.375</div>
<div class="t" style="left:845.2px;width:1000px;text-align:center;top:1057.1px;font-size:36.3px;line-height:36.3px;font-weight:normal;color:#000;transform:scaleX(0.790);transform-origin:50% 0;;-webkit-text-stroke:0.25px #dfe6f3">BN08</div>
<div class="t" style="right:604.2px;top:1057.1px;font-size:36.3px;line-height:36.3px;font-weight:normal;color:#000;transform:scaleX(0.860);transform-origin:100% 0;;-webkit-text-stroke:0.25px #dfe6f3">8.00</div>
<div class="t" style="left:1055.2px;width:1000px;text-align:center;top:1057.1px;font-size:36.3px;line-height:36.3px;font-weight:normal;color:#000;transform:scaleX(0.860);transform-origin:50% 0;;-webkit-text-stroke:0.25px #dfe6f3">0.13</div>
<div class="t" style="left:1177.2px;width:1000px;text-align:center;top:1057.1px;font-size:36.3px;line-height:36.3px;font-weight:normal;color:#000;transform:scaleX(0.860);transform-origin:50% 0;;-webkit-text-stroke:0.25px #dfe6f3">0.004</div>
<div class="t" style="left:1312.0px;width:1000px;text-align:center;top:1057.1px;font-size:36.3px;line-height:36.3px;font-weight:normal;color:#000;transform:scaleX(0.860);transform-origin:50% 0;;-webkit-text-stroke:0.25px #dfe6f3">0.015</div>
<div class="t" style="right:135.7px;top:1057.1px;font-size:36.3px;line-height:36.3px;font-weight:normal;color:#000;transform:scaleX(0.860);transform-origin:100% 0;;-webkit-text-stroke:0.25px #dfe6f3">130</div>
<div class="t" style="right:18.1px;top:1057.1px;font-size:36.3px;line-height:36.3px;font-weight:normal;color:#000;transform:scaleX(0.860);transform-origin:100% 0;;-webkit-text-stroke:0.25px #dfe6f3">61.9</div>
<div class="t" style="left:730.3px;width:1000px;text-align:center;top:1115.4px;font-size:36.3px;line-height:36.3px;font-weight:normal;color:#000;transform:scaleX(0.860);transform-origin:50% 0;;-webkit-text-stroke:0.25px #fff">0.375</div>
<div class="t" style="left:845.2px;width:1000px;text-align:center;top:1115.4px;font-size:36.3px;line-height:36.3px;font-weight:normal;color:#000;transform:scaleX(0.790);transform-origin:50% 0;;-webkit-text-stroke:0.25px #fff">BNL08</div>
<div class="t" style="right:604.2px;top:1115.4px;font-size:36.3px;line-height:36.3px;font-weight:normal;color:#000;transform:scaleX(0.860);transform-origin:100% 0;;-webkit-text-stroke:0.25px #fff">8.00</div>
<div class="t" style="left:1055.2px;width:1000px;text-align:center;top:1115.4px;font-size:36.3px;line-height:36.3px;font-weight:normal;color:#000;transform:scaleX(0.860);transform-origin:50% 0;;-webkit-text-stroke:0.25px #fff">0.13</div>
<div class="t" style="left:1177.2px;width:1000px;text-align:center;top:1115.4px;font-size:36.3px;line-height:36.3px;font-weight:normal;color:#000;transform:scaleX(0.860);transform-origin:50% 0;;-webkit-text-stroke:0.25px #fff">0.004</div>
<div class="t" style="left:1312.0px;width:1000px;text-align:center;top:1115.4px;font-size:36.3px;line-height:36.3px;font-weight:normal;color:#000;transform:scaleX(0.860);transform-origin:50% 0;;-webkit-text-stroke:0.25px #fff">0.002</div>
<div class="t" style="right:135.7px;top:1115.4px;font-size:36.3px;line-height:36.3px;font-weight:normal;color:#000;transform:scaleX(0.860);transform-origin:100% 0;;-webkit-text-stroke:0.25px #fff">130</div>
<div class="t" style="right:18.1px;top:1115.4px;font-size:36.3px;line-height:36.3px;font-weight:normal;color:#000;transform:scaleX(0.860);transform-origin:100% 0;;-webkit-text-stroke:0.25px #fff">61.9</div>
<div class="t" style="left:730.3px;width:1000px;text-align:center;top:1173.3px;font-size:36.3px;line-height:36.3px;font-weight:normal;color:#000;transform:scaleX(0.860);transform-origin:50% 0;;-webkit-text-stroke:0.25px #dfe6f3">0.394</div>
<div class="t" style="left:845.2px;width:1000px;text-align:center;top:1173.3px;font-size:36.3px;line-height:36.3px;font-weight:normal;color:#000;transform:scaleX(0.790);transform-origin:50% 0;;-webkit-text-stroke:0.25px #dfe6f3">BNM10</div>
<div class="t" style="right:604.2px;top:1173.3px;font-size:36.3px;line-height:36.3px;font-weight:normal;color:#000;transform:scaleX(0.860);transform-origin:100% 0;;-webkit-text-stroke:0.25px #dfe6f3">2.54</div>
<div class="t" style="left:1055.2px;width:1000px;text-align:center;top:1173.3px;font-size:36.3px;line-height:36.3px;font-weight:normal;color:#000;transform:scaleX(0.860);transform-origin:50% 0;;-webkit-text-stroke:0.25px #dfe6f3">0.39</div>
<div class="t" style="left:1177.2px;width:1000px;text-align:center;top:1173.3px;font-size:36.3px;line-height:36.3px;font-weight:normal;color:#000;transform:scaleX(0.860);transform-origin:50% 0;;-webkit-text-stroke:0.25px #dfe6f3">0.004</div>
<div class="t" style="left:1312.0px;width:1000px;text-align:center;top:1173.3px;font-size:36.3px;line-height:36.3px;font-weight:normal;color:#000;transform:scaleX(0.860);transform-origin:50% 0;;-webkit-text-stroke:0.25px #dfe6f3">0.003</div>
<div class="t" style="right:135.7px;top:1173.3px;font-size:36.3px;line-height:36.3px;font-weight:normal;color:#000;transform:scaleX(0.860);transform-origin:100% 0;;-webkit-text-stroke:0.25px #dfe6f3">412</div>
<div class="t" style="right:18.1px;top:1173.3px;font-size:36.3px;line-height:36.3px;font-weight:normal;color:#000;transform:scaleX(0.860);transform-origin:100% 0;;-webkit-text-stroke:0.25px #dfe6f3">61.9</div>
<div class="t" style="left:730.3px;width:1000px;text-align:center;top:1231.1px;font-size:36.3px;line-height:36.3px;font-weight:normal;color:#000;transform:scaleX(0.860);transform-origin:50% 0;;-webkit-text-stroke:0.25px #fff">0.500</div>
<div class="t" style="left:845.2px;width:1000px;text-align:center;top:1231.1px;font-size:36.3px;line-height:36.3px;font-weight:normal;color:#000;transform:scaleX(0.790);transform-origin:50% 0;;-webkit-text-stroke:0.25px #fff">SN01</div>
<div class="t" style="right:604.2px;top:1231.1px;font-size:36.3px;line-height:36.3px;font-weight:normal;color:#000;transform:scaleX(0.860);transform-origin:100% 0;;-webkit-text-stroke:0.25px #fff">1.00</div>
<div class="t" style="left:1055.2px;width:1000px;text-align:center;top:1231.1px;font-size:36.3px;line-height:36.3px;font-weight:normal;color:#000;transform:scaleX(0.860);transform-origin:50% 0;;-webkit-text-stroke:0.25px #fff">1.00</div>
<div class="t" style="left:1177.2px;width:1000px;text-align:center;top:1231.1px;font-size:36.3px;line-height:36.3px;font-weight:normal;color:#000;transform:scaleX(0.860);transform-origin:50% 0;;-webkit-text-stroke:0.25px #fff">0.006</div>
<div class="t" style="left:1312.0px;width:1000px;text-align:center;top:1231.1px;font-size:36.3px;line-height:36.3px;font-weight:normal;color:#000;transform:scaleX(0.860);transform-origin:50% 0;;-webkit-text-stroke:0.25px #fff">0.007</div>
<div class="t" style="right:135.7px;top:1231.1px;font-size:36.3px;line-height:36.3px;font-weight:normal;color:#000;transform:scaleX(0.860);transform-origin:100% 0;;-webkit-text-stroke:0.25px #fff">170</div>
<div class="t" style="right:18.1px;top:1231.1px;font-size:36.3px;line-height:36.3px;font-weight:normal;color:#000;transform:scaleX(0.860);transform-origin:100% 0;;-webkit-text-stroke:0.25px #fff">97.9</div>
<div class="t" style="left:730.3px;width:1000px;text-align:center;top:1288.7px;font-size:36.3px;line-height:36.3px;font-weight:normal;color:#000;transform:scaleX(0.860);transform-origin:50% 0;;-webkit-text-stroke:0.25px #dfe6f3">0.500</div>
<div class="t" style="left:845.2px;width:1000px;text-align:center;top:1288.7px;font-size:36.3px;line-height:36.3px;font-weight:normal;color:#000;transform:scaleX(0.790);transform-origin:50% 0;;-webkit-text-stroke:0.25px #dfe6f3">SN02</div>
<div class="t" style="right:604.2px;top:1288.7px;font-size:36.3px;line-height:36.3px;font-weight:normal;color:#000;transform:scaleX(0.860);transform-origin:100% 0;;-webkit-text-stroke:0.25px #dfe6f3">2.00</div>
<div class="t" style="left:1055.2px;width:1000px;text-align:center;top:1288.7px;font-size:36.3px;line-height:36.3px;font-weight:normal;color:#000;transform:scaleX(0.860);transform-origin:50% 0;;-webkit-text-stroke:0.25px #dfe6f3">0.50</div>
<div class="t" style="left:1177.2px;width:1000px;text-align:center;top:1288.7px;font-size:36.3px;line-height:36.3px;font-weight:normal;color:#000;transform:scaleX(0.860);transform-origin:50% 0;;-webkit-text-stroke:0.25px #dfe6f3">0.005</div>
<div class="t" style="left:1312.0px;width:1000px;text-align:center;top:1288.7px;font-size:36.3px;line-height:36.3px;font-weight:normal;color:#000;transform:scaleX(0.860);transform-origin:50% 0;;-webkit-text-stroke:0.25px #dfe6f3">0.007</div>
<div class="t" style="right:135.7px;top:1288.7px;font-size:36.3px;line-height:36.3px;font-weight:normal;color:#000;transform:scaleX(0.860);transform-origin:100% 0;;-webkit-text-stroke:0.25px #dfe6f3">170</div>
<div class="t" style="right:18.1px;top:1288.7px;font-size:36.3px;line-height:36.3px;font-weight:normal;color:#000;transform:scaleX(0.860);transform-origin:100% 0;;-webkit-text-stroke:0.25px #dfe6f3">133.9</div>
<div class="t" style="left:730.3px;width:1000px;text-align:center;top:1346.3px;font-size:36.3px;line-height:36.3px;font-weight:normal;color:#000;transform:scaleX(0.860);transform-origin:50% 0;;-webkit-text-stroke:0.25px #fff">0.500</div>
<div class="t" style="left:845.2px;width:1000px;text-align:center;top:1346.3px;font-size:36.3px;line-height:36.3px;font-weight:normal;color:#000;transform:scaleX(0.790);transform-origin:50% 0;;-webkit-text-stroke:0.25px #fff">SN05</div>
<div class="t" style="right:604.2px;top:1346.3px;font-size:36.3px;line-height:36.3px;font-weight:normal;color:#000;transform:scaleX(0.860);transform-origin:100% 0;;-webkit-text-stroke:0.25px #fff">5.00</div>
<div class="t" style="left:1055.2px;width:1000px;text-align:center;top:1346.3px;font-size:36.3px;line-height:36.3px;font-weight:normal;color:#000;transform:scaleX(0.860);transform-origin:50% 0;;-webkit-text-stroke:0.25px #fff">0.20</div>
<div class="t" style="left:1177.2px;width:1000px;text-align:center;top:1346.3px;font-size:36.3px;line-height:36.3px;font-weight:normal;color:#000;transform:scaleX(0.860);transform-origin:50% 0;;-webkit-text-stroke:0.25px #fff">0.006</div>
<div class="t" style="left:1312.0px;width:1000px;text-align:center;top:1346.3px;font-size:36.3px;line-height:36.3px;font-weight:normal;color:#000;transform:scaleX(0.860);transform-origin:50% 0;;-webkit-text-stroke:0.25px #fff">0.007</div>
<div class="t" style="right:135.7px;top:1346.3px;font-size:36.3px;line-height:36.3px;font-weight:normal;color:#000;transform:scaleX(0.860);transform-origin:100% 0;;-webkit-text-stroke:0.25px #fff">170</div>
<div class="t" style="right:18.1px;top:1346.3px;font-size:36.3px;line-height:36.3px;font-weight:normal;color:#000;transform:scaleX(0.860);transform-origin:100% 0;;-webkit-text-stroke:0.25px #fff">133.9</div>
<div class="t" style="left:730.3px;width:1000px;text-align:center;top:1404.2px;font-size:36.3px;line-height:36.3px;font-weight:normal;color:#000;transform:scaleX(0.860);transform-origin:50% 0;;-webkit-text-stroke:0.25px #dfe6f3">0.500</div>
<div class="t" style="left:845.2px;width:1000px;text-align:center;top:1404.2px;font-size:36.3px;line-height:36.3px;font-weight:normal;color:#000;transform:scaleX(0.790);transform-origin:50% 0;;-webkit-text-stroke:0.25px #dfe6f3">BN02</div>
<div class="t" style="right:604.2px;top:1404.2px;font-size:36.3px;line-height:36.3px;font-weight:normal;color:#000;transform:scaleX(0.860);transform-origin:100% 0;;-webkit-text-stroke:0.25px #dfe6f3">2.00</div>
<div class="t" style="left:1055.2px;width:1000px;text-align:center;top:1404.2px;font-size:36.3px;line-height:36.3px;font-weight:normal;color:#000;transform:scaleX(0.860);transform-origin:50% 0;;-webkit-text-stroke:0.25px #dfe6f3">0.50</div>
<div class="t" style="left:1177.2px;width:1000px;text-align:center;top:1404.2px;font-size:36.3px;line-height:36.3px;font-weight:normal;color:#000;transform:scaleX(0.860);transform-origin:50% 0;;-webkit-text-stroke:0.25px #dfe6f3">0.003</div>
<div class="t" style="left:1312.0px;width:1000px;text-align:center;top:1404.2px;font-size:36.3px;line-height:36.3px;font-weight:normal;color:#000;transform:scaleX(0.860);transform-origin:50% 0;;-webkit-text-stroke:0.25px #dfe6f3">0.015</div>
<div class="t" style="right:135.7px;top:1404.2px;font-size:36.3px;line-height:36.3px;font-weight:normal;color:#000;transform:scaleX(0.860);transform-origin:100% 0;;-webkit-text-stroke:0.25px #dfe6f3">800</div>
<div class="t" style="right:18.1px;top:1404.2px;font-size:36.3px;line-height:36.3px;font-weight:normal;color:#000;transform:scaleX(0.860);transform-origin:100% 0;;-webkit-text-stroke:0.25px #dfe6f3">59.9</div>
<div class="t" style="left:730.3px;width:1000px;text-align:center;top:1462.1px;font-size:36.3px;line-height:36.3px;font-weight:normal;color:#000;transform:scaleX(0.860);transform-origin:50% 0;;-webkit-text-stroke:0.25px #fff">0.500</div>
<div class="t" style="left:845.2px;width:1000px;text-align:center;top:1462.1px;font-size:36.3px;line-height:36.3px;font-weight:normal;color:#000;transform:scaleX(0.790);transform-origin:50% 0;;-webkit-text-stroke:0.25px #fff">BNL02</div>
<div class="t" style="right:604.2px;top:1462.1px;font-size:36.3px;line-height:36.3px;font-weight:normal;color:#000;transform:scaleX(0.860);transform-origin:100% 0;;-webkit-text-stroke:0.25px #fff">2.00</div>
<div class="t" style="left:1055.2px;width:1000px;text-align:center;top:1462.1px;font-size:36.3px;line-height:36.3px;font-weight:normal;color:#000;transform:scaleX(0.860);transform-origin:50% 0;;-webkit-text-stroke:0.25px #fff">0.50</div>
<div class="t" style="left:1177.2px;width:1000px;text-align:center;top:1462.1px;font-size:36.3px;line-height:36.3px;font-weight:normal;color:#000;transform:scaleX(0.860);transform-origin:50% 0;;-webkit-text-stroke:0.25px #fff">0.003</div>
<div class="t" style="left:1312.0px;width:1000px;text-align:center;top:1462.1px;font-size:36.3px;line-height:36.3px;font-weight:normal;color:#000;transform:scaleX(0.860);transform-origin:50% 0;;-webkit-text-stroke:0.25px #fff">0.002</div>
<div class="t" style="right:135.7px;top:1462.1px;font-size:36.3px;line-height:36.3px;font-weight:normal;color:#000;transform:scaleX(0.860);transform-origin:100% 0;;-webkit-text-stroke:0.25px #fff">800</div>
<div class="t" style="right:18.1px;top:1462.1px;font-size:36.3px;line-height:36.3px;font-weight:normal;color:#000;transform:scaleX(0.860);transform-origin:100% 0;;-webkit-text-stroke:0.25px #fff">59.9</div>
<div class="t" style="left:730.3px;width:1000px;text-align:center;top:1519.8px;font-size:36.3px;line-height:36.3px;font-weight:normal;color:#000;transform:scaleX(0.860);transform-origin:50% 0;;-webkit-text-stroke:0.25px #dfe6f3">0.625</div>
<div class="t" style="left:845.2px;width:1000px;text-align:center;top:1519.8px;font-size:36.3px;line-height:36.3px;font-weight:normal;color:#000;transform:scaleX(0.790);transform-origin:50% 0;;-webkit-text-stroke:0.25px #dfe6f3">BN05</div>
<div class="t" style="right:604.2px;top:1519.8px;font-size:36.3px;line-height:36.3px;font-weight:normal;color:#000;transform:scaleX(0.860);transform-origin:100% 0;;-webkit-text-stroke:0.25px #dfe6f3">5.00</div>
<div class="t" style="left:1055.2px;width:1000px;text-align:center;top:1519.8px;font-size:36.3px;line-height:36.3px;font-weight:normal;color:#000;transform:scaleX(0.860);transform-origin:50% 0;;-webkit-text-stroke:0.25px #dfe6f3">0.20</div>
<div class="t" style="left:1177.2px;width:1000px;text-align:center;top:1519.8px;font-size:36.3px;line-height:36.3px;font-weight:normal;color:#000;transform:scaleX(0.860);transform-origin:50% 0;;-webkit-text-stroke:0.25px #dfe6f3">0.003</div>
<div class="t" style="left:1312.0px;width:1000px;text-align:center;top:1519.8px;font-size:36.3px;line-height:36.3px;font-weight:normal;color:#000;transform:scaleX(0.860);transform-origin:50% 0;;-webkit-text-stroke:0.25px #dfe6f3">0.015</div>
<div class="t" style="right:135.7px;top:1519.8px;font-size:36.3px;line-height:36.3px;font-weight:normal;color:#000;transform:scaleX(0.860);transform-origin:100% 0;;-webkit-text-stroke:0.25px #dfe6f3">800</div>
<div class="t" style="right:18.1px;top:1519.8px;font-size:36.3px;line-height:36.3px;font-weight:normal;color:#000;transform:scaleX(0.860);transform-origin:100% 0;;-webkit-text-stroke:0.25px #dfe6f3">59.9</div>
<div class="t" style="left:730.3px;width:1000px;text-align:center;top:1577.6px;font-size:36.3px;line-height:36.3px;font-weight:normal;color:#000;transform:scaleX(0.860);transform-origin:50% 0;;-webkit-text-stroke:0.25px #fff">0.625</div>
<div class="t" style="left:845.2px;width:1000px;text-align:center;top:1577.6px;font-size:36.3px;line-height:36.3px;font-weight:normal;color:#000;transform:scaleX(0.790);transform-origin:50% 0;;-webkit-text-stroke:0.25px #fff">BNL05</div>
<div class="t" style="right:604.2px;top:1577.6px;font-size:36.3px;line-height:36.3px;font-weight:normal;color:#000;transform:scaleX(0.860);transform-origin:100% 0;;-webkit-text-stroke:0.25px #fff">5.00</div>
<div class="t" style="left:1055.2px;width:1000px;text-align:center;top:1577.6px;font-size:36.3px;line-height:36.3px;font-weight:normal;color:#000;transform:scaleX(0.860);transform-origin:50% 0;;-webkit-text-stroke:0.25px #fff">0.20</div>
<div class="t" style="left:1177.2px;width:1000px;text-align:center;top:1577.6px;font-size:36.3px;line-height:36.3px;font-weight:normal;color:#000;transform:scaleX(0.860);transform-origin:50% 0;;-webkit-text-stroke:0.25px #fff">0.003</div>
<div class="t" style="left:1312.0px;width:1000px;text-align:center;top:1577.6px;font-size:36.3px;line-height:36.3px;font-weight:normal;color:#000;transform:scaleX(0.860);transform-origin:50% 0;;-webkit-text-stroke:0.25px #fff">0.002</div>
<div class="t" style="right:135.7px;top:1577.6px;font-size:36.3px;line-height:36.3px;font-weight:normal;color:#000;transform:scaleX(0.860);transform-origin:100% 0;;-webkit-text-stroke:0.25px #fff">800</div>
<div class="t" style="right:18.1px;top:1577.6px;font-size:36.3px;line-height:36.3px;font-weight:normal;color:#000;transform:scaleX(0.860);transform-origin:100% 0;;-webkit-text-stroke:0.25px #fff">59.9</div>
<div class="t" style="left:730.3px;width:1000px;text-align:center;top:1635.1px;font-size:36.3px;line-height:36.3px;font-weight:normal;color:#000;transform:scaleX(0.860);transform-origin:50% 0;;-webkit-text-stroke:0.25px #dfe6f3">0.625</div>
<div class="t" style="left:845.2px;width:1000px;text-align:center;top:1635.1px;font-size:36.3px;line-height:36.3px;font-weight:normal;color:#000;transform:scaleX(0.790);transform-origin:50% 0;;-webkit-text-stroke:0.25px #dfe6f3">SN02</div>
<div class="t" style="right:604.2px;top:1635.1px;font-size:36.3px;line-height:36.3px;font-weight:normal;color:#000;transform:scaleX(0.860);transform-origin:100% 0;;-webkit-text-stroke:0.25px #dfe6f3">2.00</div>
<div class="t" style="left:1055.2px;width:1000px;text-align:center;top:1635.1px;font-size:36.3px;line-height:36.3px;font-weight:normal;color:#000;transform:scaleX(0.860);transform-origin:50% 0;;-webkit-text-stroke:0.25px #dfe6f3">0.50</div>
<div class="t" style="left:1177.2px;width:1000px;text-align:center;top:1635.1px;font-size:36.3px;line-height:36.3px;font-weight:normal;color:#000;transform:scaleX(0.860);transform-origin:50% 0;;-webkit-text-stroke:0.25px #dfe6f3">0.005</div>
<div class="t" style="left:1312.0px;width:1000px;text-align:center;top:1635.1px;font-size:36.3px;line-height:36.3px;font-weight:normal;color:#000;transform:scaleX(0.860);transform-origin:50% 0;;-webkit-text-stroke:0.25px #dfe6f3">0.007</div>
<div class="t" style="right:135.7px;top:1635.1px;font-size:36.3px;line-height:36.3px;font-weight:normal;color:#000;transform:scaleX(0.860);transform-origin:100% 0;;-webkit-text-stroke:0.25px #dfe6f3">200</div>
<div class="t" style="right:18.1px;top:1635.1px;font-size:36.3px;line-height:36.3px;font-weight:normal;color:#000;transform:scaleX(0.860);transform-origin:100% 0;;-webkit-text-stroke:0.25px #dfe6f3">131.9</div>
<div class="t" style="left:730.3px;width:1000px;text-align:center;top:1692.4px;font-size:36.3px;line-height:36.3px;font-weight:normal;color:#000;transform:scaleX(0.860);transform-origin:50% 0;;-webkit-text-stroke:0.25px #fff">0.750</div>
<div class="t" style="left:845.2px;width:1000px;text-align:center;top:1692.4px;font-size:36.3px;line-height:36.3px;font-weight:normal;color:#000;transform:scaleX(0.790);transform-origin:50% 0;;-webkit-text-stroke:0.25px #fff">SN01</div>
<div class="t" style="right:604.2px;top:1692.4px;font-size:36.3px;line-height:36.3px;font-weight:normal;color:#000;transform:scaleX(0.860);transform-origin:100% 0;;-webkit-text-stroke:0.25px #fff">1.00</div>
<div class="t" style="left:1055.2px;width:1000px;text-align:center;top:1692.4px;font-size:36.3px;line-height:36.3px;font-weight:normal;color:#000;transform:scaleX(0.860);transform-origin:50% 0;;-webkit-text-stroke:0.25px #fff">1.00</div>
<div class="t" style="left:1177.2px;width:1000px;text-align:center;top:1692.4px;font-size:36.3px;line-height:36.3px;font-weight:normal;color:#000;transform:scaleX(0.860);transform-origin:50% 0;;-webkit-text-stroke:0.25px #fff">0.005</div>
<div class="t" style="left:1312.0px;width:1000px;text-align:center;top:1692.4px;font-size:36.3px;line-height:36.3px;font-weight:normal;color:#000;transform:scaleX(0.860);transform-origin:50% 0;;-webkit-text-stroke:0.25px #fff">0.007</div>
<div class="t" style="right:135.7px;top:1692.4px;font-size:36.3px;line-height:36.3px;font-weight:normal;color:#000;transform:scaleX(0.860);transform-origin:100% 0;;-webkit-text-stroke:0.25px #fff">300</div>
<div class="t" style="right:18.1px;top:1692.4px;font-size:36.3px;line-height:36.3px;font-weight:normal;color:#000;transform:scaleX(0.860);transform-origin:100% 0;;-webkit-text-stroke:0.25px #fff">131.9</div>
<div class="t" style="left:730.3px;width:1000px;text-align:center;top:1750.2px;font-size:36.3px;line-height:36.3px;font-weight:normal;color:#000;transform:scaleX(0.860);transform-origin:50% 0;;-webkit-text-stroke:0.25px #dfe6f3">0.750</div>
<div class="t" style="left:845.2px;width:1000px;text-align:center;top:1750.2px;font-size:36.3px;line-height:36.3px;font-weight:normal;color:#000;transform:scaleX(0.790);transform-origin:50% 0;;-webkit-text-stroke:0.25px #dfe6f3">BN02</div>
<div class="t" style="right:604.2px;top:1750.2px;font-size:36.3px;line-height:36.3px;font-weight:normal;color:#000;transform:scaleX(0.860);transform-origin:100% 0;;-webkit-text-stroke:0.25px #dfe6f3">2.00</div>
<div class="t" style="left:1055.2px;width:1000px;text-align:center;top:1750.2px;font-size:36.3px;line-height:36.3px;font-weight:normal;color:#000;transform:scaleX(0.860);transform-origin:50% 0;;-webkit-text-stroke:0.25px #dfe6f3">0.50</div>
<div class="t" style="left:1177.2px;width:1000px;text-align:center;top:1750.2px;font-size:36.3px;line-height:36.3px;font-weight:normal;color:#000;transform:scaleX(0.860);transform-origin:50% 0;;-webkit-text-stroke:0.25px #dfe6f3">0.004</div>
<div class="t" style="left:1312.0px;width:1000px;text-align:center;top:1750.2px;font-size:36.3px;line-height:36.3px;font-weight:normal;color:#000;transform:scaleX(0.860);transform-origin:50% 0;;-webkit-text-stroke:0.25px #dfe6f3">0.015</div>
<div class="t" style="right:135.7px;top:1750.2px;font-size:36.3px;line-height:36.3px;font-weight:normal;color:#000;transform:scaleX(0.860);transform-origin:100% 0;;-webkit-text-stroke:0.25px #dfe6f3">2700</div>
<div class="t" style="right:18.1px;top:1750.2px;font-size:36.3px;line-height:36.3px;font-weight:normal;color:#000;transform:scaleX(0.860);transform-origin:100% 0;;-webkit-text-stroke:0.25px #dfe6f3">178.7</div>
<div class="t" style="left:730.3px;width:1000px;text-align:center;top:1807.9px;font-size:36.3px;line-height:36.3px;font-weight:normal;color:#000;transform:scaleX(0.860);transform-origin:50% 0;;-webkit-text-stroke:0.25px #fff">0.750</div>
<div class="t" style="left:845.2px;width:1000px;text-align:center;top:1807.9px;font-size:36.3px;line-height:36.3px;font-weight:normal;color:#000;transform:scaleX(0.790);transform-origin:50% 0;;-webkit-text-stroke:0.25px #fff">BNL02</div>
<div class="t" style="right:604.2px;top:1807.9px;font-size:36.3px;line-height:36.3px;font-weight:normal;color:#000;transform:scaleX(0.860);transform-origin:100% 0;;-webkit-text-stroke:0.25px #fff">2.00</div>
<div class="t" style="left:1055.2px;width:1000px;text-align:center;top:1807.9px;font-size:36.3px;line-height:36.3px;font-weight:normal;color:#000;transform:scaleX(0.860);transform-origin:50% 0;;-webkit-text-stroke:0.25px #fff">0.50</div>
<div class="t" style="left:1177.2px;width:1000px;text-align:center;top:1807.9px;font-size:36.3px;line-height:36.3px;font-weight:normal;color:#000;transform:scaleX(0.860);transform-origin:50% 0;;-webkit-text-stroke:0.25px #fff">0.004</div>
<div class="t" style="left:1312.0px;width:1000px;text-align:center;top:1807.9px;font-size:36.3px;line-height:36.3px;font-weight:normal;color:#000;transform:scaleX(0.860);transform-origin:50% 0;;-webkit-text-stroke:0.25px #fff">0.002</div>
<div class="t" style="right:135.7px;top:1807.9px;font-size:36.3px;line-height:36.3px;font-weight:normal;color:#000;transform:scaleX(0.860);transform-origin:100% 0;;-webkit-text-stroke:0.25px #fff">2700</div>
<div class="t" style="right:18.1px;top:1807.9px;font-size:36.3px;line-height:36.3px;font-weight:normal;color:#000;transform:scaleX(0.860);transform-origin:100% 0;;-webkit-text-stroke:0.25px #fff">178.7</div>
<div class="t" style="left:730.3px;width:1000px;text-align:center;top:1865.5px;font-size:36.3px;line-height:36.3px;font-weight:normal;color:#000;transform:scaleX(0.860);transform-origin:50% 0;;-webkit-text-stroke:0.25px #dfe6f3">0.750</div>
<div class="t" style="left:845.2px;width:1000px;text-align:center;top:1865.5px;font-size:36.3px;line-height:36.3px;font-weight:normal;color:#000;transform:scaleX(0.790);transform-origin:50% 0;;-webkit-text-stroke:0.25px #dfe6f3">BN05</div>
<div class="t" style="right:604.2px;top:1865.5px;font-size:36.3px;line-height:36.3px;font-weight:normal;color:#000;transform:scaleX(0.860);transform-origin:100% 0;;-webkit-text-stroke:0.25px #dfe6f3">5.00</div>
<div class="t" style="left:1055.2px;width:1000px;text-align:center;top:1865.5px;font-size:36.3px;line-height:36.3px;font-weight:normal;color:#000;transform:scaleX(0.860);transform-origin:50% 0;;-webkit-text-stroke:0.25px #dfe6f3">0.20</div>
<div class="t" style="left:1177.2px;width:1000px;text-align:center;top:1865.5px;font-size:36.3px;line-height:36.3px;font-weight:normal;color:#000;transform:scaleX(0.860);transform-origin:50% 0;;-webkit-text-stroke:0.25px #dfe6f3">0.003</div>
<div class="t" style="left:1312.0px;width:1000px;text-align:center;top:1865.5px;font-size:36.3px;line-height:36.3px;font-weight:normal;color:#000;transform:scaleX(0.860);transform-origin:50% 0;;-webkit-text-stroke:0.25px #dfe6f3">0.015</div>
<div class="t" style="right:135.7px;top:1865.5px;font-size:36.3px;line-height:36.3px;font-weight:normal;color:#000;transform:scaleX(0.860);transform-origin:100% 0;;-webkit-text-stroke:0.25px #dfe6f3">950</div>
<div class="t" style="right:18.1px;top:1865.5px;font-size:36.3px;line-height:36.3px;font-weight:normal;color:#000;transform:scaleX(0.860);transform-origin:100% 0;;-webkit-text-stroke:0.25px #dfe6f3">130.7</div>
<div class="t" style="left:730.3px;width:1000px;text-align:center;top:1923.4px;font-size:36.3px;line-height:36.3px;font-weight:normal;color:#000;transform:scaleX(0.860);transform-origin:50% 0;;-webkit-text-stroke:0.25px #fff">0.750</div>
<div class="t" style="left:845.2px;width:1000px;text-align:center;top:1923.4px;font-size:36.3px;line-height:36.3px;font-weight:normal;color:#000;transform:scaleX(0.790);transform-origin:50% 0;;-webkit-text-stroke:0.25px #fff">BNL05</div>
<div class="t" style="right:604.2px;top:1923.4px;font-size:36.3px;line-height:36.3px;font-weight:normal;color:#000;transform:scaleX(0.860);transform-origin:100% 0;;-webkit-text-stroke:0.25px #fff">5.00</div>
<div class="t" style="left:1055.2px;width:1000px;text-align:center;top:1923.4px;font-size:36.3px;line-height:36.3px;font-weight:normal;color:#000;transform:scaleX(0.860);transform-origin:50% 0;;-webkit-text-stroke:0.25px #fff">0.20</div>
<div class="t" style="left:1177.2px;width:1000px;text-align:center;top:1923.4px;font-size:36.3px;line-height:36.3px;font-weight:normal;color:#000;transform:scaleX(0.860);transform-origin:50% 0;;-webkit-text-stroke:0.25px #fff">0.003</div>
<div class="t" style="left:1312.0px;width:1000px;text-align:center;top:1923.4px;font-size:36.3px;line-height:36.3px;font-weight:normal;color:#000;transform:scaleX(0.860);transform-origin:50% 0;;-webkit-text-stroke:0.25px #fff">0.002</div>
<div class="t" style="right:135.7px;top:1923.4px;font-size:36.3px;line-height:36.3px;font-weight:normal;color:#000;transform:scaleX(0.860);transform-origin:100% 0;;-webkit-text-stroke:0.25px #fff">950</div>
<div class="t" style="right:18.1px;top:1923.4px;font-size:36.3px;line-height:36.3px;font-weight:normal;color:#000;transform:scaleX(0.860);transform-origin:100% 0;;-webkit-text-stroke:0.25px #fff">130.7</div>
<div class="t" style="left:730.3px;width:1000px;text-align:center;top:1980.9px;font-size:36.3px;line-height:36.3px;font-weight:normal;color:#000;transform:scaleX(0.860);transform-origin:50% 0;;-webkit-text-stroke:0.25px #dfe6f3">0.750</div>
<div class="t" style="left:845.2px;width:1000px;text-align:center;top:1980.9px;font-size:36.3px;line-height:36.3px;font-weight:normal;color:#000;transform:scaleX(0.790);transform-origin:50% 0;;-webkit-text-stroke:0.25px #dfe6f3">SN02</div>
<div class="t" style="right:604.2px;top:1980.9px;font-size:36.3px;line-height:36.3px;font-weight:normal;color:#000;transform:scaleX(0.860);transform-origin:100% 0;;-webkit-text-stroke:0.25px #dfe6f3">2.00</div>
<div class="t" style="left:1055.2px;width:1000px;text-align:center;top:1980.9px;font-size:36.3px;line-height:36.3px;font-weight:normal;color:#000;transform:scaleX(0.860);transform-origin:50% 0;;-webkit-text-stroke:0.25px #dfe6f3">0.50</div>
<div class="t" style="left:1177.2px;width:1000px;text-align:center;top:1980.9px;font-size:36.3px;line-height:36.3px;font-weight:normal;color:#000;transform:scaleX(0.860);transform-origin:50% 0;;-webkit-text-stroke:0.25px #dfe6f3">0.005</div>
<div class="t" style="left:1312.0px;width:1000px;text-align:center;top:1980.9px;font-size:36.3px;line-height:36.3px;font-weight:normal;color:#000;transform:scaleX(0.860);transform-origin:50% 0;;-webkit-text-stroke:0.25px #dfe6f3">0.007</div>
<div class="t" style="right:135.7px;top:1980.9px;font-size:36.3px;line-height:36.3px;font-weight:normal;color:#000;transform:scaleX(0.860);transform-origin:100% 0;;-webkit-text-stroke:0.25px #dfe6f3">300</div>
<div class="t" style="right:18.1px;top:1980.9px;font-size:36.3px;line-height:36.3px;font-weight:normal;color:#000;transform:scaleX(0.860);transform-origin:100% 0;;-webkit-text-stroke:0.25px #dfe6f3">130.7</div>
<div class="t" style="left:730.3px;width:1000px;text-align:center;top:2038.5px;font-size:36.3px;line-height:36.3px;font-weight:normal;color:#000;transform:scaleX(0.860);transform-origin:50% 0;;-webkit-text-stroke:0.25px #fff">0.750</div>
<div class="t" style="left:845.2px;width:1000px;text-align:center;top:2038.5px;font-size:36.3px;line-height:36.3px;font-weight:normal;color:#000;transform:scaleX(0.790);transform-origin:50% 0;;-webkit-text-stroke:0.25px #fff">SN01</div>
<div class="t" style="right:604.2px;top:2038.5px;font-size:36.3px;line-height:36.3px;font-weight:normal;color:#000;transform:scaleX(0.860);transform-origin:100% 0;;-webkit-text-stroke:0.25px #fff">1.00</div>
<div class="t" style="left:1055.2px;width:1000px;text-align:center;top:2038.5px;font-size:36.3px;line-height:36.3px;font-weight:normal;color:#000;transform:scaleX(0.860);transform-origin:50% 0;;-webkit-text-stroke:0.25px #fff">1.00</div>
<div class="t" style="left:1177.2px;width:1000px;text-align:center;top:2038.5px;font-size:36.3px;line-height:36.3px;font-weight:normal;color:#000;transform:scaleX(0.860);transform-origin:50% 0;;-webkit-text-stroke:0.25px #fff">0.005</div>
<div class="t" style="left:1312.0px;width:1000px;text-align:center;top:2038.5px;font-size:36.3px;line-height:36.3px;font-weight:normal;color:#000;transform:scaleX(0.860);transform-origin:50% 0;;-webkit-text-stroke:0.25px #fff">0.007</div>
<div class="t" style="right:135.7px;top:2038.5px;font-size:36.3px;line-height:36.3px;font-weight:normal;color:#000;transform:scaleX(0.860);transform-origin:100% 0;;-webkit-text-stroke:0.25px #fff">300</div>
<div class="t" style="right:18.1px;top:2038.5px;font-size:36.3px;line-height:36.3px;font-weight:normal;color:#000;transform:scaleX(0.860);transform-origin:100% 0;;-webkit-text-stroke:0.25px #fff">130.7</div>
<div class="t" style="left:722.3px;width:1000px;text-align:center;top:2096.4px;font-size:36.3px;line-height:36.3px;font-weight:normal;color:#000;transform:scaleX(0.860);transform-origin:50% 0;;-webkit-text-stroke:0.25px #dfe6f3">1.000</div>
<div class="t" style="left:845.2px;width:1000px;text-align:center;top:2096.4px;font-size:36.3px;line-height:36.3px;font-weight:normal;color:#000;transform:scaleX(0.790);transform-origin:50% 0;;-webkit-text-stroke:0.25px #dfe6f3">BN01</div>
<div class="t" style="right:604.2px;top:2096.4px;font-size:36.3px;line-height:36.3px;font-weight:normal;color:#000;transform:scaleX(0.860);transform-origin:100% 0;;-webkit-text-stroke:0.25px #dfe6f3">1.00</div>
<div class="t" style="left:1055.2px;width:1000px;text-align:center;top:2096.4px;font-size:36.3px;line-height:36.3px;font-weight:normal;color:#000;transform:scaleX(0.860);transform-origin:50% 0;;-webkit-text-stroke:0.25px #dfe6f3">1.00</div>
<div class="t" style="left:1169.8px;width:1000px;text-align:center;top:2096.4px;font-size:36.3px;line-height:36.3px;font-weight:normal;color:#000;transform:scaleX(0.860);transform-origin:50% 0;;-webkit-text-stroke:0.25px #dfe6f3">0.004</div>
<div class="t" style="left:1304.0px;width:1000px;text-align:center;top:2096.4px;font-size:36.3px;line-height:36.3px;font-weight:normal;color:#000;transform:scaleX(0.860);transform-origin:50% 0;;-webkit-text-stroke:0.25px #dfe6f3">0.015</div>
<div class="t" style="right:135.7px;top:2096.4px;font-size:36.3px;line-height:36.3px;font-weight:normal;color:#000;transform:scaleX(0.860);transform-origin:100% 0;;-webkit-text-stroke:0.25px #dfe6f3">2500</div>
<div class="t" style="right:18.1px;top:2096.4px;font-size:36.3px;line-height:36.3px;font-weight:normal;color:#000;transform:scaleX(0.860);transform-origin:100% 0;;-webkit-text-stroke:0.25px #dfe6f3">125.4</div>
<div class="t" style="left:722.3px;width:1000px;text-align:center;top:2154.4px;font-size:36.3px;line-height:36.3px;font-weight:normal;color:#000;transform:scaleX(0.860);transform-origin:50% 0;;-webkit-text-stroke:0.25px #fff">1.000</div>
<div class="t" style="left:845.2px;width:1000px;text-align:center;top:2154.4px;font-size:36.3px;line-height:36.3px;font-weight:normal;color:#000;transform:scaleX(0.790);transform-origin:50% 0;;-webkit-text-stroke:0.25px #fff">BNL01</div>
<div class="t" style="right:604.2px;top:2154.4px;font-size:36.3px;line-height:36.3px;font-weight:normal;color:#000;transform:scaleX(0.860);transform-origin:100% 0;;-webkit-text-stroke:0.25px #fff">1.00</div>
<div class="t" style="left:1055.2px;width:1000px;text-align:center;top:2154.4px;font-size:36.3px;line-height:36.3px;font-weight:normal;color:#000;transform:scaleX(0.860);transform-origin:50% 0;;-webkit-text-stroke:0.25px #fff">1.00</div>
<div class="t" style="left:1169.8px;width:1000px;text-align:center;top:2154.4px;font-size:36.3px;line-height:36.3px;font-weight:normal;color:#000;transform:scaleX(0.860);transform-origin:50% 0;;-webkit-text-stroke:0.25px #fff">0.004</div>
<div class="t" style="left:1304.0px;width:1000px;text-align:center;top:2154.4px;font-size:36.3px;line-height:36.3px;font-weight:normal;color:#000;transform:scaleX(0.860);transform-origin:50% 0;;-webkit-text-stroke:0.25px #fff">0.002</div>
<div class="t" style="right:135.7px;top:2154.4px;font-size:36.3px;line-height:36.3px;font-weight:normal;color:#000;transform:scaleX(0.860);transform-origin:100% 0;;-webkit-text-stroke:0.25px #fff">2500</div>
<div class="t" style="right:18.1px;top:2154.4px;font-size:36.3px;line-height:36.3px;font-weight:normal;color:#000;transform:scaleX(0.860);transform-origin:100% 0;;-webkit-text-stroke:0.25px #fff">125.4</div>
<div class="t" style="left:722.3px;width:1000px;text-align:center;top:2212.5px;font-size:36.3px;line-height:36.3px;font-weight:normal;color:#000;transform:scaleX(0.860);transform-origin:50% 0;;-webkit-text-stroke:0.25px #dfe6f3">1.000</div>
<div class="t" style="left:845.2px;width:1000px;text-align:center;top:2212.5px;font-size:36.3px;line-height:36.3px;font-weight:normal;color:#000;transform:scaleX(0.790);transform-origin:50% 0;;-webkit-text-stroke:0.25px #dfe6f3">BN02</div>
<div class="t" style="right:604.2px;top:2212.5px;font-size:36.3px;line-height:36.3px;font-weight:normal;color:#000;transform:scaleX(0.860);transform-origin:100% 0;;-webkit-text-stroke:0.25px #dfe6f3">2.00</div>
<div class="t" style="left:1055.2px;width:1000px;text-align:center;top:2212.5px;font-size:36.3px;line-height:36.3px;font-weight:normal;color:#000;transform:scaleX(0.860);transform-origin:50% 0;;-webkit-text-stroke:0.25px #dfe6f3">0.50</div>
<div class="t" style="left:1169.8px;width:1000px;text-align:center;top:2212.5px;font-size:36.3px;line-height:36.3px;font-weight:normal;color:#000;transform:scaleX(0.860);transform-origin:50% 0;;-webkit-text-stroke:0.25px #dfe6f3">0.004</div>
<div class="t" style="left:1304.0px;width:1000px;text-align:center;top:2212.5px;font-size:36.3px;line-height:36.3px;font-weight:normal;color:#000;transform:scaleX(0.860);transform-origin:50% 0;;-webkit-text-stroke:0.25px #dfe6f3">0.015</div>
<div class="t" style="right:135.7px;top:2212.5px;font-size:36.3px;line-height:36.3px;font-weight:normal;color:#000;transform:scaleX(0.860);transform-origin:100% 0;;-webkit-text-stroke:0.25px #dfe6f3">4300</div>
<div class="t" style="right:18.1px;top:2212.5px;font-size:36.3px;line-height:36.3px;font-weight:normal;color:#000;transform:scaleX(0.860);transform-origin:100% 0;;-webkit-text-stroke:0.25px #dfe6f3">125.4</div>
<div class="t" style="left:722.3px;width:1000px;text-align:center;top:2270.0px;font-size:36.3px;line-height:36.3px;font-weight:normal;color:#000;transform:scaleX(0.860);transform-origin:50% 0;;-webkit-text-stroke:0.25px #fff">1.000</div>
<div class="t" style="left:845.2px;width:1000px;text-align:center;top:2270.0px;font-size:36.3px;line-height:36.3px;font-weight:normal;color:#000;transform:scaleX(0.790);transform-origin:50% 0;;-webkit-text-stroke:0.25px #fff">BNL02</div>
<div class="t" style="right:604.2px;top:2270.0px;font-size:36.3px;line-height:36.3px;font-weight:normal;color:#000;transform:scaleX(0.860);transform-origin:100% 0;;-webkit-text-stroke:0.25px #fff">2.00</div>
<div class="t" style="left:1055.2px;width:1000px;text-align:center;top:2270.0px;font-size:36.3px;line-height:36.3px;font-weight:normal;color:#000;transform:scaleX(0.860);transform-origin:50% 0;;-webkit-text-stroke:0.25px #fff">0.50</div>
<div class="t" style="left:1169.8px;width:1000px;text-align:center;top:2270.0px;font-size:36.3px;line-height:36.3px;font-weight:normal;color:#000;transform:scaleX(0.860);transform-origin:50% 0;;-webkit-text-stroke:0.25px #fff">0.004</div>
<div class="t" style="left:1304.0px;width:1000px;text-align:center;top:2270.0px;font-size:36.3px;line-height:36.3px;font-weight:normal;color:#000;transform:scaleX(0.860);transform-origin:50% 0;;-webkit-text-stroke:0.25px #fff">0.002</div>
<div class="t" style="right:135.7px;top:2270.0px;font-size:36.3px;line-height:36.3px;font-weight:normal;color:#000;transform:scaleX(0.860);transform-origin:100% 0;;-webkit-text-stroke:0.25px #fff">4300</div>
<div class="t" style="right:18.1px;top:2270.0px;font-size:36.3px;line-height:36.3px;font-weight:normal;color:#000;transform:scaleX(0.860);transform-origin:100% 0;;-webkit-text-stroke:0.25px #fff">125.4</div>
<div class="t" style="left:722.3px;width:1000px;text-align:center;top:2327.5px;font-size:36.3px;line-height:36.3px;font-weight:normal;color:#000;transform:scaleX(0.860);transform-origin:50% 0;;-webkit-text-stroke:0.25px #dfe6f3">1.000</div>
<div class="t" style="left:845.2px;width:1000px;text-align:center;top:2327.5px;font-size:36.3px;line-height:36.3px;font-weight:normal;color:#000;transform:scaleX(0.790);transform-origin:50% 0;;-webkit-text-stroke:0.25px #dfe6f3">BN04</div>
<div class="t" style="right:604.2px;top:2327.5px;font-size:36.3px;line-height:36.3px;font-weight:normal;color:#000;transform:scaleX(0.860);transform-origin:100% 0;;-webkit-text-stroke:0.25px #dfe6f3">4.00</div>
<div class="t" style="left:1055.2px;width:1000px;text-align:center;top:2327.5px;font-size:36.3px;line-height:36.3px;font-weight:normal;color:#000;transform:scaleX(0.860);transform-origin:50% 0;;-webkit-text-stroke:0.25px #dfe6f3">0.25</div>
<div class="t" style="left:1169.8px;width:1000px;text-align:center;top:2327.5px;font-size:36.3px;line-height:36.3px;font-weight:normal;color:#000;transform:scaleX(0.860);transform-origin:50% 0;;-webkit-text-stroke:0.25px #dfe6f3">0.004</div>
<div class="t" style="left:1304.0px;width:1000px;text-align:center;top:2327.5px;font-size:36.3px;line-height:36.3px;font-weight:normal;color:#000;transform:scaleX(0.860);transform-origin:50% 0;;-webkit-text-stroke:0.25px #dfe6f3">0.015</div>
<div class="t" style="right:135.7px;top:2327.5px;font-size:36.3px;line-height:36.3px;font-weight:normal;color:#000;transform:scaleX(0.860);transform-origin:100% 0;;-webkit-text-stroke:0.25px #dfe6f3">3300</div>
<div class="t" style="right:18.1px;top:2327.5px;font-size:36.3px;line-height:36.3px;font-weight:normal;color:#000;transform:scaleX(0.860);transform-origin:100% 0;;-webkit-text-stroke:0.25px #dfe6f3">125.4</div>
<div class="t" style="left:722.3px;width:1000px;text-align:center;top:2385.2px;font-size:36.3px;line-height:36.3px;font-weight:normal;color:#000;transform:scaleX(0.860);transform-origin:50% 0;;-webkit-text-stroke:0.25px #fff">1.000</div>
<div class="t" style="left:845.2px;width:1000px;text-align:center;top:2385.2px;font-size:36.3px;line-height:36.3px;font-weight:normal;color:#000;transform:scaleX(0.790);transform-origin:50% 0;;-webkit-text-stroke:0.25px #fff">BNL04</div>
<div class="t" style="right:604.2px;top:2385.2px;font-size:36.3px;line-height:36.3px;font-weight:normal;color:#000;transform:scaleX(0.860);transform-origin:100% 0;;-webkit-text-stroke:0.25px #fff">4.00</div>
<div class="t" style="left:1055.2px;width:1000px;text-align:center;top:2385.2px;font-size:36.3px;line-height:36.3px;font-weight:normal;color:#000;transform:scaleX(0.860);transform-origin:50% 0;;-webkit-text-stroke:0.25px #fff">0.25</div>
<div class="t" style="left:1169.8px;width:1000px;text-align:center;top:2385.2px;font-size:36.3px;line-height:36.3px;font-weight:normal;color:#000;transform:scaleX(0.860);transform-origin:50% 0;;-webkit-text-stroke:0.25px #fff">0.004</div>
<div class="t" style="left:1304.0px;width:1000px;text-align:center;top:2385.2px;font-size:36.3px;line-height:36.3px;font-weight:normal;color:#000;transform:scaleX(0.860);transform-origin:50% 0;;-webkit-text-stroke:0.25px #fff">0.002</div>
<div class="t" style="right:135.7px;top:2385.2px;font-size:36.3px;line-height:36.3px;font-weight:normal;color:#000;transform:scaleX(0.860);transform-origin:100% 0;;-webkit-text-stroke:0.25px #fff">3300</div>
<div class="t" style="right:18.1px;top:2385.2px;font-size:36.3px;line-height:36.3px;font-weight:normal;color:#000;transform:scaleX(0.860);transform-origin:100% 0;;-webkit-text-stroke:0.25px #fff">125.4</div>
<div class="t" style="left:722.3px;width:1000px;text-align:center;top:2442.8px;font-size:36.3px;line-height:36.3px;font-weight:normal;color:#000;transform:scaleX(0.860);transform-origin:50% 0;;-webkit-text-stroke:0.25px #dfe6f3">1.000</div>
<div class="t" style="left:845.2px;width:1000px;text-align:center;top:2442.8px;font-size:36.3px;line-height:36.3px;font-weight:normal;color:#000;transform:scaleX(0.790);transform-origin:50% 0;;-webkit-text-stroke:0.25px #dfe6f3">SN04</div>
<div class="t" style="right:604.2px;top:2442.8px;font-size:36.3px;line-height:36.3px;font-weight:normal;color:#000;transform:scaleX(0.860);transform-origin:100% 0;;-webkit-text-stroke:0.25px #dfe6f3">4.00</div>
<div class="t" style="left:1055.2px;width:1000px;text-align:center;top:2442.8px;font-size:36.3px;line-height:36.3px;font-weight:normal;color:#000;transform:scaleX(0.860);transform-origin:50% 0;;-webkit-text-stroke:0.25px #dfe6f3">0.25</div>
<div class="t" style="left:1169.8px;width:1000px;text-align:center;top:2442.8px;font-size:36.3px;line-height:36.3px;font-weight:normal;color:#000;transform:scaleX(0.860);transform-origin:50% 0;;-webkit-text-stroke:0.25px #dfe6f3">0.010</div>
<div class="t" style="left:1304.0px;width:1000px;text-align:center;top:2442.8px;font-size:36.3px;line-height:36.3px;font-weight:normal;color:#000;transform:scaleX(0.860);transform-origin:50% 0;;-webkit-text-stroke:0.25px #dfe6f3">0.007</div>
<div class="t" style="right:135.7px;top:2442.8px;font-size:36.3px;line-height:36.3px;font-weight:normal;color:#000;transform:scaleX(0.860);transform-origin:100% 0;;-webkit-text-stroke:0.25px #dfe6f3">400</div>
<div class="t" style="right:18.1px;top:2442.8px;font-size:36.3px;line-height:36.3px;font-weight:normal;color:#000;transform:scaleX(0.860);transform-origin:100% 0;;-webkit-text-stroke:0.25px #dfe6f3">125.4</div>
<div class="c" style="left:1119.6px;top:610.8px"><div style="position:absolute;left:-500px;width:1000px;top:-20.4px;text-align:center;font-size:40.5px;line-height:40.5px;font-weight:bold;color:#000;-webkit-text-stroke:0.6px #000;transform-origin:500px 20.4px;transform:rotate(-90deg) scaleX(0.830)">MXE16</div></div>
<div class="c" style="left:1119.6px;top:872.5px"><div style="position:absolute;left:-500px;width:1000px;top:-20.4px;text-align:center;font-size:40.5px;line-height:40.5px;font-weight:bold;color:#000;-webkit-text-stroke:0.6px #000;transform-origin:500px 20.4px;transform:rotate(-90deg) scaleX(0.830)">MXE25</div></div>
<div class="c" style="left:1119.6px;top:1218.8px"><div style="position:absolute;left:-500px;width:1000px;top:-20.4px;text-align:center;font-size:40.5px;line-height:40.5px;font-weight:bold;color:#000;-webkit-text-stroke:0.6px #000;transform-origin:500px 20.4px;transform:rotate(-90deg) scaleX(0.830)">MXE32</div></div>
<div class="c" style="left:1119.6px;top:1565.5px"><div style="position:absolute;left:-500px;width:1000px;top:-20.4px;text-align:center;font-size:40.5px;line-height:40.5px;font-weight:bold;color:#000;-webkit-text-stroke:0.6px #000;transform-origin:500px 20.4px;transform:rotate(-90deg) scaleX(0.830)">MXE40</div></div>
<div class="c" style="left:1119.6px;top:1911.8px"><div style="position:absolute;left:-500px;width:1000px;top:-20.4px;text-align:center;font-size:40.5px;line-height:40.5px;font-weight:bold;color:#000;-webkit-text-stroke:0.6px #000;transform-origin:500px 20.4px;transform:rotate(-90deg) scaleX(0.830)">MXE50</div></div>
<div class="c" style="left:1119.6px;top:2287.0px"><div style="position:absolute;left:-500px;width:1000px;top:-20.4px;text-align:center;font-size:40.5px;line-height:40.5px;font-weight:bold;color:#000;-webkit-text-stroke:0.6px #000;transform-origin:500px 20.4px;transform:rotate(-90deg) scaleX(0.830)">MXE63</div></div>
<div class="v" style="left:1078.5px;top:504.5px;font-size:41.5px;line-height:40.0px;font-weight:bold;color:#fff;word-spacing:4.0px;-webkit-text-stroke:1.40px #fff;transform:rotate(-90deg) scaleX(0.665)">ACTUATOR<br>SERIES</div>
<div class="v" style="left:1190.2px;top:435.0px;font-size:41.5px;line-height:40.0px;font-weight:bold;color:#fff;word-spacing:4.0px;-webkit-text-stroke:1.40px #fff;transform:rotate(-90deg) scaleX(0.665)">SCREW<br>DIAMETER</div>
<div class="v" style="left:1305.1px;top:504.5px;font-size:41.5px;line-height:40.0px;font-weight:bold;color:#fff;word-spacing:4.0px;-webkit-text-stroke:1.40px #fff;transform:rotate(-90deg) scaleX(0.665)">SCREW ORDERING<br>DESCRIPTION</div>
<div class="v" style="left:1413.1px;top:435.0px;font-size:41.5px;line-height:40.0px;font-weight:bold;color:#fff;word-spacing:4.0px;-webkit-text-stroke:1.40px #fff;transform:rotate(-90deg) scaleX(0.665)">SCREW<br>PITCH</div>
<div class="v" style="left:1535.1px;top:435.0px;font-size:41.5px;line-height:40.0px;font-weight:bold;color:#fff;word-spacing:4.0px;-webkit-text-stroke:1.40px #fff;transform:rotate(-90deg) scaleX(0.665)">SCREW LEAD</div>
<div class="v" style="left:1637.1px;top:435.0px;font-size:41.5px;line-height:40.0px;font-weight:bold;color:#fff;word-spacing:4.0px;-webkit-text-stroke:1.40px #fff;transform:rotate(-90deg) scaleX(0.665)">LEAD<br>ACCURACY</div>
<div class="v" style="left:1791.9px;top:435.0px;font-size:41.5px;line-height:40.0px;font-weight:bold;color:#fff;word-spacing:4.0px;-webkit-text-stroke:1.40px #fff;transform:rotate(-90deg) scaleX(0.665)">BACKLASH</div>
<div class="v" style="left:1909.9px;top:435.0px;font-size:41.5px;line-height:40.0px;font-weight:bold;color:#fff;word-spacing:4.0px;-webkit-text-stroke:1.40px #fff;transform:rotate(-90deg) scaleX(0.665)">MAX THRUST</div>
<div class="v" style="left:2018.4px;top:435.0px;font-size:41.5px;line-height:40.0px;font-weight:bold;color:#fff;word-spacing:4.0px;-webkit-text-stroke:1.40px #fff;transform:rotate(-90deg) scaleX(0.665)">MAX STROKE</div>
<div class="t" style="left:730.3px;width:1000px;text-align:center;top:454.8px;font-size:33.3px;line-height:33.3px;font-weight:bold;color:#000;transform:scaleX(0.820);transform-origin:50% 0;">in</div>
<div class="t" style="left:953.2px;width:1000px;text-align:center;top:454.8px;font-size:33.3px;line-height:33.3px;font-weight:bold;color:#000;transform:scaleX(0.820);transform-origin:50% 0;">rev/in</div>
<div class="t" style="left:1055.2px;width:1000px;text-align:center;top:454.8px;font-size:33.3px;line-height:33.3px;font-weight:bold;color:#000;transform:scaleX(0.820);transform-origin:50% 0;">in</div>
<div class="t" style="left:1177.2px;width:1000px;text-align:center;top:454.8px;font-size:33.3px;line-height:33.3px;font-weight:bold;color:#000;transform:scaleX(0.820);transform-origin:50% 0;">in/ft</div>
<div class="t" style="left:1312.0px;width:1000px;text-align:center;top:454.8px;font-size:33.3px;line-height:33.3px;font-weight:bold;color:#000;transform:scaleX(0.820);transform-origin:50% 0;">in</div>
<div class="t" style="left:1430.0px;width:1000px;text-align:center;top:454.8px;font-size:33.3px;line-height:33.3px;font-weight:bold;color:#000;transform:scaleX(0.820);transform-origin:50% 0;">lb</div>
<div class="t" style="left:1538.5px;width:1000px;text-align:center;top:454.8px;font-size:33.3px;line-height:33.3px;font-weight:bold;color:#000;transform:scaleX(0.820);transform-origin:50% 0;">in</div>
<svg style="position:absolute;left:0;top:2650px" width="240" height="252" viewBox="0 2650 240 252">
<defs>
<linearGradient id="bg" x1="0" y1="0" x2="1" y2="1">
<stop offset="0" stop-color="#5877a0"/><stop offset="0.5" stop-color="#6684ab"/><stop offset="1" stop-color="#537198"/>
</linearGradient>
<linearGradient id="body" x1="0" y1="0" x2="0" y2="1">
<stop offset="0" stop-color="#f2f2f3"/><stop offset="0.35" stop-color="#e4e5e8"/><stop offset="1" stop-color="#dcdde2"/>
</linearGradient>
<linearGradient id="lcd" x1="0" y1="0" x2="1" y2="0">
<stop offset="0" stop-color="#e3ebc6"/><stop offset="1" stop-color="#c8d89a"/>
</linearGradient>
<clipPath id="boxclip"><rect x="8" y="2730" width="199.3" height="162"/></clipPath>
<filter id="blur1" x="-20%" y="-20%" width="140%" height="140%"><feGaussianBlur stdDeviation="0.9"/></filter>
<filter id="blur2" x="-50%" y="-50%" width="200%" height="200%"><feGaussianBlur stdDeviation="5"/></filter>
</defs>
<rect x="8" y="2730" width="199.3" height="162" fill="url(#bg)"/>
<g clip-path="url(#boxclip)"><g filter="url(#blur2)" opacity="0.4">
<polygon points="30,2760 60,2750 95,2892 60,2892" fill="#8ea8c8"/>
<polygon points="150,2760 200,2740 207,2830 170,2850" fill="#7f9bc0"/>
<polygon points="14,2740 30,2740 40,2892 18,2892" fill="#86a0c2"/>
</g></g>
<g transform="translate(103.1 2740.5) rotate(-28)">
<rect x="-35" y="-48" width="70" height="100" rx="9" fill="#f4f5f7" filter="url(#blur1)"/>
<rect x="-32" y="-45" width="64" height="94" rx="7" fill="url(#body)" filter="url(#blur1)"/>
<rect x="-25.7" y="-34" width="57.3" height="15" fill="url(#lcd)" stroke="#2c3a18" stroke-width="1.3"/>
<text x="29" y="-21.5" font-family="Liberation Sans" font-size="14" font-weight="bold" text-anchor="end" fill="#4b5a2c">3.14</text>
<g filter="url(#blur1)"><rect x="-30.0" y="-11.0" width="14" height="12" rx="3" fill="#404146"/><rect x="-25.0" y="-7.0" width="4" height="4" fill="#9a9ca3" opacity="0.8"/><rect x="-13.8" y="-11.0" width="14" height="12" rx="3" fill="#404146"/><rect x="-8.8" y="-7.0" width="4" height="4" fill="#9a9ca3" opacity="0.8"/><rect x="2.4" y="-11.0" width="14" height="12" rx="3" fill="#404146"/><rect x="7.4" y="-7.0" width="4" height="4" fill="#9a9ca3" opacity="0.8"/><rect x="18.6" y="-11.0" width="14" height="12" rx="3" fill="#404146"/><rect x="23.6" y="-7.0" width="4" height="4" fill="#9a9ca3" opacity="0.8"/><rect x="-30.0" y="2.7" width="14" height="12" rx="3" fill="#404146"/><rect x="-25.0" y="6.7" width="4" height="4" fill="#9a9ca3" opacity="0.8"/><rect x="-13.8" y="2.7" width="14" height="12" rx="3" fill="#404146"/><rect x="-8.8" y="6.7" width="4" height="4" fill="#9a9ca3" opacity="0.8"/><rect x="2.4" y="2.7" width="14" height="12" rx="3" fill="#404146"/><rect x="7.4" y="6.7" width="4" height="4" fill="#9a9ca3" opacity="0.8"/><rect x="18.6" y="2.7" width="14" height="12" rx="3" fill="#404146"/><rect x="23.6" y="6.7" width="4" height="4" fill="#9a9ca3" opacity="0.8"/><rect x="-30.0" y="16.4" width="14" height="12" rx="3" fill="#404146"/><rect x="-25.0" y="20.4" width="4" height="4" fill="#9a9ca3" opacity="0.8"/><rect x="-13.8" y="16.4" width="14" height="12" rx="3" fill="#404146"/><rect x="-8.8" y="20.4" width="4" height="4" fill="#9a9ca3" opacity="0.8"/><rect x="2.4" y="16.4" width="14" height="12" rx="3" fill="#404146"/><rect x="7.4" y="20.4" width="4" height="4" fill="#9a9ca3" opacity="0.8"/><rect x="18.6" y="16.4" width="14" height="12" rx="3" fill="#404146"/><rect x="23.6" y="20.4" width="4" height="4" fill="#9a9ca3" opacity="0.8"/><rect x="-30.0" y="30.1" width="14" height="12" rx="3" fill="#404146"/><rect x="-25.0" y="34.1" width="4" height="4" fill="#9a9ca3" opacity="0.8"/><rect x="-13.8" y="30.1" width="14" height="12" rx="3" fill="#404146"/><rect x="-8.8" y="34.1" width="4" height="4" fill="#9a9ca3" opacity="0.8"/><rect x="2.4" y="30.1" width="14" height="12" rx="3" fill="#404146"/><rect x="7.4" y="34.1" width="4" height="4" fill="#9a9ca3" opacity="0.8"/><rect x="18.6" y="30.1" width="14" height="12" rx="3" fill="#404146"/><rect x="23.6" y="34.1" width="4" height="4" fill="#9a9ca3" opacity="0.8"/></g>
</g>
</svg>
<div class="t" style="left:-393.0px;width:1000px;text-align:center;top:2799.8px;font-size:42.8px;line-height:42.8px;font-weight:bold;color:#fff;transform:scaleX(0.740);transform-origin:50% 0;;-webkit-text-stroke:1.20px #fff">ACTUATOR</div>
<div class="t" style="left:-392.5px;width:1000px;text-align:center;top:2841.8px;font-size:42.8px;line-height:42.8px;font-weight:bold;color:#fff;transform:scaleX(0.772);transform-origin:50% 0;;-webkit-text-stroke:1.20px #fff">SIZING</div>
<div class="t" style="left:241px;top:2709.1px;font-size:40.8px;line-height:40.8px;font-weight:bold;-webkit-text-stroke:1.2px currentColor;transform:scaleX(0.772);transform-origin:0 0"><span style="color:#1477c0">sizeit.tolomatic.com</span> for fast, accurate actuator selection</div>
<div class="t" style="left:241.0px;top:2758.5px;font-size:45.5px;line-height:45.5px;font-weight:normal;color:#000;transform:scaleX(0.838);transform-origin:0 0;;-webkit-text-stroke:0.70px #fff">or call Tolomatic (1-800-328-2174) with application</div>
<div class="t" style="left:241.0px;top:2806.5px;font-size:45.5px;line-height:45.5px;font-weight:normal;color:#000;transform:scaleX(0.822);transform-origin:0 0;;-webkit-text-stroke:0.70px #fff">information. We will provide any assistance needed</div>
<div class="t" style="left:241.0px;top:2853.8px;font-size:45.5px;line-height:45.5px;font-weight:normal;color:#000;transform:scaleX(0.829);transform-origin:0 0;;-webkit-text-stroke:0.70px #fff">to determine the proper MXE screw-driven actuator.</div>
</body></html>
